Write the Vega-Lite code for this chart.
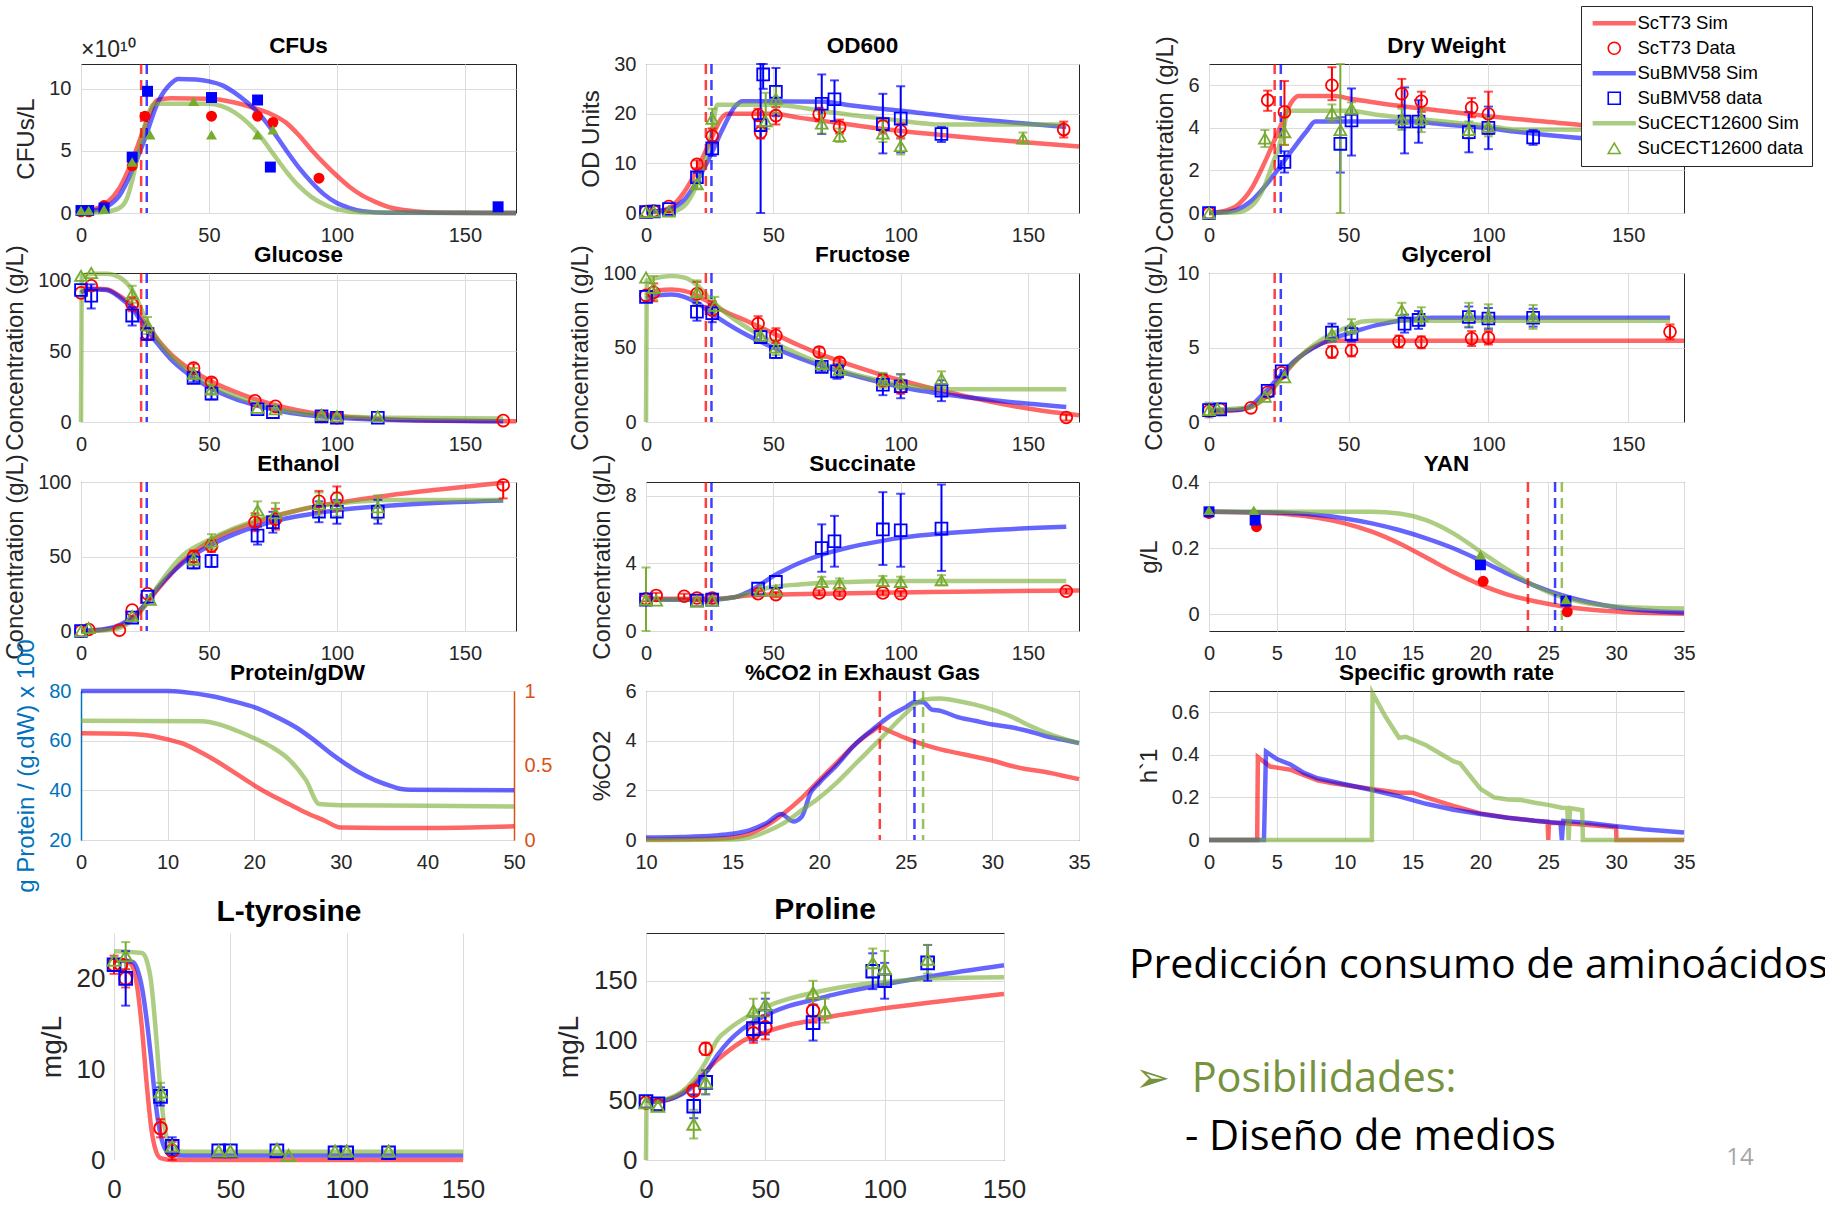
{
"$schema": "https://vega.github.io/schema/vega-lite/v6.json",
"background": "white",
"autosize": "none",
"padding": {"left": 81, "top": 64, "right": 1744, "bottom": 1142},
"columns": 3,
"align": "each",
"bounds": "flush",
"spacing": {"row": 29.5, "column": 130},
"resolve": {"scale": {"color": "independent", "shape": "independent"}, "legend": {"color": "independent", "shape": "independent"}},
"datasets": {
"vl": [{"t":23.5,"s":"ScT73"},{"t":25.7,"s":"SuBMV58"}],
"vl3": [{"t":23.5,"s":"ScT73"},{"t":25.5,"s":"SuBMV58"},{"t":26,"s":"SuCECT12600"}],
"cfu_sim": [
{"t":0,"v":0.2,"s":"ScT73"},{"t":5,"v":0.3,"s":"ScT73"},{"t":10,"v":0.8,"s":"ScT73"},{"t":15,"v":2.0,"s":"ScT73"},{"t":20,"v":4.2,"s":"ScT73"},{"t":25,"v":7.0,"s":"ScT73"},{"t":30,"v":9.1,"s":"ScT73"},{"t":35,"v":9.25,"s":"ScT73"},{"t":50,"v":9.2,"s":"ScT73"},{"t":60,"v":8.9,"s":"ScT73"},{"t":70,"v":8.3,"s":"ScT73"},{"t":75,"v":7.9,"s":"ScT73"},{"t":80,"v":7.3,"s":"ScT73"},{"t":85,"v":6.3,"s":"ScT73"},{"t":90,"v":5.1,"s":"ScT73"},{"t":95,"v":4.0,"s":"ScT73"},{"t":100,"v":3.0,"s":"ScT73"},{"t":105,"v":2.1,"s":"ScT73"},{"t":110,"v":1.4,"s":"ScT73"},{"t":115,"v":0.9,"s":"ScT73"},{"t":120,"v":0.5,"s":"ScT73"},{"t":130,"v":0.15,"s":"ScT73"},{"t":140,"v":0.03,"s":"ScT73"},{"t":170,"v":0,"s":"ScT73"},
{"t":0,"v":0.2,"s":"SuBMV58"},{"t":5,"v":0.2,"s":"SuBMV58"},{"t":10,"v":0.5,"s":"SuBMV58"},{"t":15,"v":1.4,"s":"SuBMV58"},{"t":20,"v":3.4,"s":"SuBMV58"},{"t":25,"v":6.0,"s":"SuBMV58"},{"t":30,"v":8.9,"s":"SuBMV58"},{"t":35,"v":10.4,"s":"SuBMV58"},{"t":38,"v":10.8,"s":"SuBMV58"},{"t":45,"v":10.75,"s":"SuBMV58"},{"t":50,"v":10.6,"s":"SuBMV58"},{"t":55,"v":10.3,"s":"SuBMV58"},{"t":60,"v":9.7,"s":"SuBMV58"},{"t":65,"v":8.9,"s":"SuBMV58"},{"t":70,"v":7.9,"s":"SuBMV58"},{"t":75,"v":6.6,"s":"SuBMV58"},{"t":80,"v":5.1,"s":"SuBMV58"},{"t":85,"v":3.7,"s":"SuBMV58"},{"t":90,"v":2.5,"s":"SuBMV58"},{"t":95,"v":1.5,"s":"SuBMV58"},{"t":100,"v":0.8,"s":"SuBMV58"},{"t":105,"v":0.4,"s":"SuBMV58"},{"t":110,"v":0.15,"s":"SuBMV58"},{"t":120,"v":0.02,"s":"SuBMV58"},{"t":170,"v":0,"s":"SuBMV58"},
{"t":0,"v":0,"s":"SuCECT12600"},{"t":10,"v":0.1,"s":"SuCECT12600"},{"t":15,"v":0.4,"s":"SuCECT12600"},{"t":18,"v":1.2,"s":"SuCECT12600"},{"t":20,"v":2.6,"s":"SuCECT12600"},{"t":23,"v":5.4,"s":"SuCECT12600"},{"t":26,"v":7.8,"s":"SuCECT12600"},{"t":28,"v":8.7,"s":"SuCECT12600"},{"t":30,"v":8.8,"s":"SuCECT12600"},{"t":50,"v":8.8,"s":"SuCECT12600"},{"t":55,"v":8.6,"s":"SuCECT12600"},{"t":60,"v":8.1,"s":"SuCECT12600"},{"t":65,"v":7.3,"s":"SuCECT12600"},{"t":70,"v":6.2,"s":"SuCECT12600"},{"t":75,"v":4.8,"s":"SuCECT12600"},{"t":80,"v":3.4,"s":"SuCECT12600"},{"t":85,"v":2.2,"s":"SuCECT12600"},{"t":90,"v":1.3,"s":"SuCECT12600"},{"t":95,"v":0.7,"s":"SuCECT12600"},{"t":100,"v":0.3,"s":"SuCECT12600"},{"t":110,"v":0.05,"s":"SuCECT12600"},{"t":170,"v":0,"s":"SuCECT12600"}],
"cfu_dat": [
{"t":0,"v":0.1,"s":"ScT73"},{"t":3,"v":0.1,"s":"ScT73"},{"t":9,"v":0.6,"s":"ScT73"},{"t":20,"v":3.8,"s":"ScT73"},{"t":25,"v":7.8,"s":"ScT73"},{"t":51,"v":7.8,"s":"ScT73"},{"t":69,"v":7.8,"s":"ScT73"},{"t":75,"v":7.3,"s":"ScT73"},{"t":93,"v":2.8,"s":"ScT73"},
{"t":0,"v":0.2,"s":"SuBMV58"},{"t":3,"v":0.2,"s":"SuBMV58"},{"t":9,"v":0.4,"s":"SuBMV58"},{"t":20,"v":4.5,"s":"SuBMV58"},{"t":26,"v":9.8,"s":"SuBMV58"},{"t":51,"v":9.3,"s":"SuBMV58"},{"t":69,"v":9.1,"s":"SuBMV58"},{"t":74,"v":3.7,"s":"SuBMV58"},{"t":163,"v":0.5,"s":"SuBMV58"},
{"t":0,"v":0.2,"s":"SuCECT12600"},{"t":3,"v":0.2,"s":"SuCECT12600"},{"t":9,"v":0.3,"s":"SuCECT12600"},{"t":20,"v":4.1,"s":"SuCECT12600"},{"t":27,"v":6.3,"s":"SuCECT12600"},{"t":44,"v":9.0,"s":"SuCECT12600"},{"t":51,"v":6.3,"s":"SuCECT12600"},{"t":69,"v":6.3,"s":"SuCECT12600"},{"t":75,"v":6.7,"s":"SuCECT12600"}],
"od_sim": [
{"t":0,"v":0.2,"s":"ScT73"},{"t":5,"v":0.4,"s":"ScT73"},{"t":10,"v":1.3,"s":"ScT73"},{"t":15,"v":4.2,"s":"ScT73"},{"t":20,"v":8.7,"s":"ScT73"},{"t":25,"v":14.2,"s":"ScT73"},{"t":30,"v":19.3,"s":"ScT73"},{"t":32,"v":20,"s":"ScT73"},{"t":50,"v":20,"s":"ScT73"},{"t":60,"v":19.2,"s":"ScT73"},{"t":70,"v":18.5,"s":"ScT73"},{"t":80,"v":17.8,"s":"ScT73"},{"t":90,"v":17.1,"s":"ScT73"},{"t":100,"v":16.5,"s":"ScT73"},{"t":110,"v":16,"s":"ScT73"},{"t":120,"v":15.5,"s":"ScT73"},{"t":135,"v":14.8,"s":"ScT73"},{"t":150,"v":14.2,"s":"ScT73"},{"t":170,"v":13.4,"s":"ScT73"},
{"t":0,"v":0.3,"s":"SuBMV58"},{"t":5,"v":0.4,"s":"SuBMV58"},{"t":10,"v":0.9,"s":"SuBMV58"},{"t":15,"v":2.6,"s":"SuBMV58"},{"t":20,"v":6.4,"s":"SuBMV58"},{"t":25,"v":11.2,"s":"SuBMV58"},{"t":30,"v":16.8,"s":"SuBMV58"},{"t":35,"v":21.5,"s":"SuBMV58"},{"t":38,"v":22.5,"s":"SuBMV58"},{"t":70,"v":22.4,"s":"SuBMV58"},{"t":80,"v":21.7,"s":"SuBMV58"},{"t":90,"v":21.1,"s":"SuBMV58"},{"t":100,"v":20.6,"s":"SuBMV58"},{"t":110,"v":20,"s":"SuBMV58"},{"t":120,"v":19.4,"s":"SuBMV58"},{"t":140,"v":18.4,"s":"SuBMV58"},{"t":165,"v":17.3,"s":"SuBMV58"},
{"t":0,"v":0.1,"s":"SuCECT12600"},{"t":10,"v":0.3,"s":"SuCECT12600"},{"t":15,"v":1.4,"s":"SuCECT12600"},{"t":20,"v":5.8,"s":"SuCECT12600"},{"t":24,"v":12,"s":"SuCECT12600"},{"t":26,"v":17,"s":"SuCECT12600"},{"t":28,"v":21.8,"s":"SuCECT12600"},{"t":50,"v":21.8,"s":"SuCECT12600"},{"t":60,"v":21.3,"s":"SuCECT12600"},{"t":70,"v":20.5,"s":"SuCECT12600"},{"t":80,"v":19.8,"s":"SuCECT12600"},{"t":90,"v":19.2,"s":"SuCECT12600"},{"t":100,"v":18.6,"s":"SuCECT12600"},{"t":110,"v":18,"s":"SuCECT12600"},{"t":115,"v":17.8,"s":"SuCECT12600"},{"t":165,"v":17.8,"s":"SuCECT12600"}],
"od_dat": [
{"t":0,"v":0.3,"s":"ScT73"},{"t":3,"v":0.4,"s":"ScT73"},{"t":9,"v":1.3,"s":"ScT73"},{"t":20,"v":9.8,"lo":9.0,"hi":10.6,"s":"ScT73"},{"t":26,"v":15.5,"lo":14,"hi":17,"s":"ScT73"},{"t":44,"v":19.7,"lo":18.5,"hi":21,"s":"ScT73"},{"t":45,"v":16.2,"lo":15,"hi":17.5,"s":"ScT73"},{"t":51,"v":19.6,"lo":17.8,"hi":21.3,"s":"ScT73"},{"t":68,"v":19.9,"lo":18.5,"hi":21.2,"s":"ScT73"},{"t":76,"v":17.3,"lo":16,"hi":18.8,"s":"ScT73"},{"t":93,"v":17.5,"lo":16,"hi":19,"s":"ScT73"},{"t":100,"v":16.5,"lo":15,"hi":18,"s":"ScT73"},{"t":164,"v":16.8,"lo":15.2,"hi":18.4,"s":"ScT73"},
{"t":0,"v":0.2,"s":"SuBMV58"},{"t":3,"v":0.3,"s":"SuBMV58"},{"t":9,"v":0.8,"s":"SuBMV58"},{"t":20,"v":7.2,"lo":6.3,"hi":8.1,"s":"SuBMV58"},{"t":26,"v":13,"lo":11.5,"hi":14.5,"s":"SuBMV58"},{"t":45,"v":17.7,"lo":0,"hi":30,"s":"SuBMV58"},{"t":46,"v":27.9,"lo":25,"hi":30,"s":"SuBMV58"},{"t":51,"v":24.4,"lo":19.5,"hi":29.2,"s":"SuBMV58"},{"t":69,"v":22,"lo":15.9,"hi":27.9,"s":"SuBMV58"},{"t":74,"v":22.9,"lo":18.5,"hi":26.7,"s":"SuBMV58"},{"t":93,"v":17.9,"lo":12,"hi":24,"s":"SuBMV58"},{"t":100,"v":19,"lo":12.2,"hi":25.5,"s":"SuBMV58"},{"t":116,"v":15.9,"lo":14.3,"hi":17.3,"s":"SuBMV58"},
{"t":0,"v":0.2,"s":"SuCECT12600"},{"t":3,"v":0.3,"s":"SuCECT12600"},{"t":9,"v":0.3,"s":"SuCECT12600"},{"t":20,"v":5.8,"lo":5,"hi":6.6,"s":"SuCECT12600"},{"t":26,"v":19,"lo":17,"hi":21,"s":"SuCECT12600"},{"t":47,"v":18.5,"lo":16.9,"hi":24.2,"s":"SuCECT12600"},{"t":51,"v":23,"lo":20,"hi":25.5,"s":"SuCECT12600"},{"t":69,"v":18,"lo":16,"hi":20,"s":"SuCECT12600"},{"t":76,"v":15.5,"lo":14.3,"hi":17,"s":"SuCECT12600"},{"t":93,"v":16,"lo":14.3,"hi":18.5,"s":"SuCECT12600"},{"t":100,"v":13.5,"lo":11.8,"hi":15.2,"s":"SuCECT12600"},{"t":148,"v":15,"lo":14,"hi":16.2,"s":"SuCECT12600"}],
"dw_sim": [
{"t":0,"v":0,"s":"ScT73"},{"t":5,"v":0.08,"s":"ScT73"},{"t":10,"v":0.35,"s":"ScT73"},{"t":15,"v":1.1,"s":"ScT73"},{"t":20,"v":2.4,"s":"ScT73"},{"t":25,"v":3.9,"s":"ScT73"},{"t":30,"v":5.3,"s":"ScT73"},{"t":32,"v":5.5,"s":"ScT73"},{"t":45,"v":5.5,"s":"ScT73"},{"t":50,"v":5.38,"s":"ScT73"},{"t":60,"v":5.18,"s":"ScT73"},{"t":70,"v":5.0,"s":"ScT73"},{"t":80,"v":4.85,"s":"ScT73"},{"t":90,"v":4.7,"s":"ScT73"},{"t":100,"v":4.55,"s":"ScT73"},{"t":110,"v":4.42,"s":"ScT73"},{"t":120,"v":4.3,"s":"ScT73"},{"t":140,"v":4.05,"s":"ScT73"},{"t":165,"v":3.85,"s":"ScT73"},
{"t":0,"v":0,"s":"SuBMV58"},{"t":5,"v":0.03,"s":"SuBMV58"},{"t":10,"v":0.15,"s":"SuBMV58"},{"t":15,"v":0.55,"s":"SuBMV58"},{"t":20,"v":1.25,"s":"SuBMV58"},{"t":25,"v":2.1,"s":"SuBMV58"},{"t":30,"v":3.0,"s":"SuBMV58"},{"t":35,"v":3.85,"s":"SuBMV58"},{"t":38,"v":4.3,"s":"SuBMV58"},{"t":75,"v":4.3,"s":"SuBMV58"},{"t":80,"v":4.22,"s":"SuBMV58"},{"t":90,"v":4.1,"s":"SuBMV58"},{"t":100,"v":3.98,"s":"SuBMV58"},{"t":110,"v":3.82,"s":"SuBMV58"},{"t":120,"v":3.68,"s":"SuBMV58"},{"t":140,"v":3.45,"s":"SuBMV58"},{"t":165,"v":3.25,"s":"SuBMV58"},
{"t":0,"v":0,"s":"SuCECT12600"},{"t":10,"v":0.03,"s":"SuCECT12600"},{"t":15,"v":0.3,"s":"SuCECT12600"},{"t":20,"v":1.3,"s":"SuCECT12600"},{"t":23,"v":2.4,"s":"SuCECT12600"},{"t":25,"v":3.1,"s":"SuCECT12600"},{"t":27,"v":4.1,"s":"SuCECT12600"},{"t":28,"v":4.8,"s":"SuCECT12600"},{"t":50,"v":4.8,"s":"SuCECT12600"},{"t":60,"v":4.62,"s":"SuCECT12600"},{"t":70,"v":4.48,"s":"SuCECT12600"},{"t":80,"v":4.35,"s":"SuCECT12600"},{"t":90,"v":4.22,"s":"SuCECT12600"},{"t":100,"v":4.1,"s":"SuCECT12600"},{"t":110,"v":3.92,"s":"SuCECT12600"},{"t":165,"v":3.9,"s":"SuCECT12600"}],
"dw_dat": [
{"t":0,"v":0,"s":"ScT73"},{"t":21,"v":5.3,"lo":4.8,"hi":5.75,"s":"ScT73"},{"t":27,"v":4.75,"lo":3.2,"hi":6.2,"s":"ScT73"},{"t":44,"v":6.0,"lo":5.3,"hi":6.85,"s":"ScT73"},{"t":69,"v":5.6,"lo":5.0,"hi":6.3,"s":"ScT73"},{"t":76,"v":5.25,"lo":4.75,"hi":5.7,"s":"ScT73"},{"t":94,"v":4.95,"lo":4.5,"hi":5.4,"s":"ScT73"},{"t":100,"v":4.65,"lo":3.7,"hi":5.7,"s":"ScT73"},
{"t":0,"v":0,"s":"SuBMV58"},{"t":27,"v":2.4,"lo":1.9,"hi":2.9,"s":"SuBMV58"},{"t":47,"v":3.25,"lo":1.9,"hi":4.5,"s":"SuBMV58"},{"t":51,"v":4.35,"lo":2.7,"hi":5.85,"s":"SuBMV58"},{"t":70,"v":4.3,"lo":2.8,"hi":5.9,"s":"SuBMV58"},{"t":75,"v":4.3,"lo":3.3,"hi":5.3,"s":"SuBMV58"},{"t":93,"v":3.8,"lo":2.85,"hi":4.75,"s":"SuBMV58"},{"t":100,"v":4.0,"lo":3.0,"hi":5.0,"s":"SuBMV58"},{"t":116,"v":3.55,"lo":3.2,"hi":3.9,"s":"SuBMV58"},
{"t":0,"v":0,"s":"SuCECT12600"},{"t":20,"v":3.5,"lo":3.1,"hi":3.9,"s":"SuCECT12600"},{"t":27,"v":3.8,"lo":3.2,"hi":4.5,"s":"SuCECT12600"},{"t":44,"v":4.7,"lo":4.3,"hi":5.1,"s":"SuCECT12600"},{"t":47,"v":3.9,"lo":0,"hi":7,"s":"SuCECT12600"},{"t":51,"v":4.9,"lo":4.6,"hi":5.2,"s":"SuCECT12600"},{"t":69,"v":4.4,"lo":3.9,"hi":4.9,"s":"SuCECT12600"},{"t":76,"v":4.4,"lo":3.8,"hi":4.9,"s":"SuCECT12600"},{"t":93,"v":3.9,"lo":3.5,"hi":4.3,"s":"SuCECT12600"},{"t":100,"v":4.05,"lo":3.6,"hi":4.5,"s":"SuCECT12600"}],
"glu_sim": [
{"t":0,"v":91,"s":"ScT73"},{"t":3,"v":94,"s":"ScT73"},{"t":10,"v":93.5,"s":"ScT73"},{"t":15,"v":89,"s":"ScT73"},{"t":20,"v":82,"s":"ScT73"},{"t":25,"v":70,"s":"ScT73"},{"t":30,"v":58,"s":"ScT73"},{"t":35,"v":48,"s":"ScT73"},{"t":40,"v":40.5,"s":"ScT73"},{"t":45,"v":34.5,"s":"ScT73"},{"t":50,"v":29.5,"s":"ScT73"},{"t":60,"v":21.5,"s":"ScT73"},{"t":70,"v":15,"s":"ScT73"},{"t":80,"v":10,"s":"ScT73"},{"t":90,"v":6.5,"s":"ScT73"},{"t":100,"v":4.3,"s":"ScT73"},{"t":120,"v":2,"s":"ScT73"},{"t":140,"v":1,"s":"ScT73"},{"t":170,"v":0.5,"s":"ScT73"},
{"t":0,"v":91,"s":"SuBMV58"},{"t":3,"v":93.5,"s":"SuBMV58"},{"t":10,"v":93,"s":"SuBMV58"},{"t":15,"v":88,"s":"SuBMV58"},{"t":20,"v":80,"s":"SuBMV58"},{"t":25,"v":67,"s":"SuBMV58"},{"t":30,"v":55,"s":"SuBMV58"},{"t":35,"v":44.5,"s":"SuBMV58"},{"t":40,"v":36.5,"s":"SuBMV58"},{"t":45,"v":30,"s":"SuBMV58"},{"t":50,"v":24.5,"s":"SuBMV58"},{"t":60,"v":16.5,"s":"SuBMV58"},{"t":70,"v":11,"s":"SuBMV58"},{"t":80,"v":7,"s":"SuBMV58"},{"t":90,"v":4.5,"s":"SuBMV58"},{"t":100,"v":3,"s":"SuBMV58"},{"t":120,"v":1.5,"s":"SuBMV58"},{"t":140,"v":0.8,"s":"SuBMV58"},{"t":165,"v":0.5,"s":"SuBMV58"},
{"t":0,"v":0,"s":"SuCECT12600"},{"t":0.3,"v":103,"s":"SuCECT12600"},{"t":5,"v":104.5,"s":"SuCECT12600"},{"t":10,"v":104.5,"s":"SuCECT12600"},{"t":15,"v":102,"s":"SuCECT12600"},{"t":20,"v":93,"s":"SuCECT12600"},{"t":25,"v":74,"s":"SuCECT12600"},{"t":30,"v":58,"s":"SuCECT12600"},{"t":35,"v":47,"s":"SuCECT12600"},{"t":40,"v":39,"s":"SuCECT12600"},{"t":45,"v":32,"s":"SuCECT12600"},{"t":50,"v":26.5,"s":"SuCECT12600"},{"t":60,"v":18.5,"s":"SuCECT12600"},{"t":70,"v":12.5,"s":"SuCECT12600"},{"t":80,"v":8,"s":"SuCECT12600"},{"t":90,"v":5.5,"s":"SuCECT12600"},{"t":100,"v":4,"s":"SuCECT12600"},{"t":120,"v":3,"s":"SuCECT12600"},{"t":165,"v":2.5,"s":"SuCECT12600"}],
"glu_dat": [
{"t":0,"v":91,"s":"ScT73"},{"t":4,"v":96,"s":"ScT73"},{"t":20,"v":83,"lo":78,"hi":88,"s":"ScT73"},{"t":26,"v":62,"lo":58,"hi":66,"s":"ScT73"},{"t":44,"v":38,"lo":35,"hi":41,"s":"ScT73"},{"t":51,"v":28,"lo":25,"hi":31,"s":"ScT73"},{"t":68,"v":15,"s":"ScT73"},{"t":76,"v":11,"s":"ScT73"},{"t":94,"v":4,"s":"ScT73"},{"t":100,"v":3,"s":"ScT73"},{"t":165,"v":1,"s":"ScT73"},
{"t":0,"v":93,"s":"SuBMV58"},{"t":4,"v":89,"lo":80,"hi":97,"s":"SuBMV58"},{"t":20,"v":75,"lo":68,"hi":81,"s":"SuBMV58"},{"t":26,"v":62,"lo":58,"hi":66,"s":"SuBMV58"},{"t":44,"v":31,"lo":28,"hi":34,"s":"SuBMV58"},{"t":51,"v":20,"lo":16,"hi":24,"s":"SuBMV58"},{"t":69,"v":9,"s":"SuBMV58"},{"t":75,"v":7,"s":"SuBMV58"},{"t":94,"v":4,"s":"SuBMV58"},{"t":100,"v":3,"s":"SuBMV58"},{"t":116,"v":3,"s":"SuBMV58"},
{"t":0,"v":103,"s":"SuCECT12600"},{"t":4,"v":105,"s":"SuCECT12600"},{"t":20,"v":90,"lo":84,"hi":96,"s":"SuCECT12600"},{"t":26,"v":68,"lo":62,"hi":74,"s":"SuCECT12600"},{"t":44,"v":34,"lo":30,"hi":38,"s":"SuCECT12600"},{"t":51,"v":23,"lo":20,"hi":26,"s":"SuCECT12600"},{"t":69,"v":10,"s":"SuCECT12600"},{"t":76,"v":9,"s":"SuCECT12600"},{"t":94,"v":5,"s":"SuCECT12600"},{"t":100,"v":4,"s":"SuCECT12600"},{"t":116,"v":4,"s":"SuCECT12600"}],
"fru_sim": [
{"t":0,"v":85,"s":"ScT73"},{"t":5,"v":88.5,"s":"ScT73"},{"t":10,"v":89,"s":"ScT73"},{"t":15,"v":88,"s":"ScT73"},{"t":20,"v":85,"s":"ScT73"},{"t":25,"v":80,"s":"ScT73"},{"t":30,"v":75,"s":"ScT73"},{"t":40,"v":67.5,"s":"ScT73"},{"t":50,"v":59.5,"s":"ScT73"},{"t":60,"v":51.5,"s":"ScT73"},{"t":70,"v":44.5,"s":"ScT73"},{"t":80,"v":38.5,"s":"ScT73"},{"t":90,"v":33,"s":"ScT73"},{"t":100,"v":28,"s":"ScT73"},{"t":110,"v":23.5,"s":"ScT73"},{"t":120,"v":19.5,"s":"ScT73"},{"t":130,"v":15.5,"s":"ScT73"},{"t":140,"v":12,"s":"ScT73"},{"t":150,"v":9,"s":"ScT73"},{"t":160,"v":6.5,"s":"ScT73"},{"t":170,"v":4.5,"s":"ScT73"},
{"t":0,"v":83,"s":"SuBMV58"},{"t":5,"v":85,"s":"SuBMV58"},{"t":10,"v":85.5,"s":"SuBMV58"},{"t":15,"v":84,"s":"SuBMV58"},{"t":20,"v":80,"s":"SuBMV58"},{"t":25,"v":74,"s":"SuBMV58"},{"t":30,"v":68,"s":"SuBMV58"},{"t":40,"v":58,"s":"SuBMV58"},{"t":50,"v":50,"s":"SuBMV58"},{"t":60,"v":43,"s":"SuBMV58"},{"t":70,"v":37,"s":"SuBMV58"},{"t":80,"v":32,"s":"SuBMV58"},{"t":90,"v":27.5,"s":"SuBMV58"},{"t":100,"v":23.5,"s":"SuBMV58"},{"t":120,"v":18,"s":"SuBMV58"},{"t":140,"v":14,"s":"SuBMV58"},{"t":165,"v":10,"s":"SuBMV58"},
{"t":0,"v":0,"s":"SuCECT12600"},{"t":0.3,"v":95,"s":"SuCECT12600"},{"t":5,"v":97,"s":"SuCECT12600"},{"t":10,"v":98,"s":"SuCECT12600"},{"t":15,"v":97,"s":"SuCECT12600"},{"t":20,"v":92,"s":"SuCECT12600"},{"t":25,"v":83,"s":"SuCECT12600"},{"t":30,"v":75,"s":"SuCECT12600"},{"t":40,"v":63,"s":"SuCECT12600"},{"t":50,"v":53.5,"s":"SuCECT12600"},{"t":60,"v":45.5,"s":"SuCECT12600"},{"t":70,"v":38.5,"s":"SuCECT12600"},{"t":80,"v":33,"s":"SuCECT12600"},{"t":90,"v":28.5,"s":"SuCECT12600"},{"t":100,"v":25,"s":"SuCECT12600"},{"t":110,"v":23,"s":"SuCECT12600"},{"t":120,"v":22,"s":"SuCECT12600"},{"t":165,"v":22,"s":"SuCECT12600"}],
"fru_dat": [
{"t":0,"v":85,"s":"ScT73"},{"t":3,"v":87,"lo":81,"hi":93,"s":"ScT73"},{"t":20,"v":86,"lo":78,"hi":94,"s":"ScT73"},{"t":26,"v":75,"lo":69,"hi":81,"s":"ScT73"},{"t":44,"v":66,"lo":61,"hi":71,"s":"ScT73"},{"t":51,"v":58,"lo":53,"hi":63,"s":"ScT73"},{"t":68,"v":47,"lo":44,"hi":50,"s":"ScT73"},{"t":76,"v":40,"lo":37,"hi":43,"s":"ScT73"},{"t":93,"v":28,"lo":24,"hi":32,"s":"ScT73"},{"t":100,"v":23,"lo":19,"hi":27,"s":"ScT73"},{"t":165,"v":3,"lo":1,"hi":5,"s":"ScT73"},
{"t":0,"v":84,"s":"SuBMV58"},{"t":20,"v":74,"lo":68,"hi":80,"s":"SuBMV58"},{"t":26,"v":73,"lo":67,"hi":79,"s":"SuBMV58"},{"t":45,"v":57,"lo":53,"hi":61,"s":"SuBMV58"},{"t":51,"v":47,"lo":43,"hi":51,"s":"SuBMV58"},{"t":69,"v":37,"lo":34,"hi":40,"s":"SuBMV58"},{"t":75,"v":34,"lo":29,"hi":39,"s":"SuBMV58"},{"t":93,"v":25,"lo":18,"hi":32,"s":"SuBMV58"},{"t":100,"v":24,"lo":16,"hi":32,"s":"SuBMV58"},{"t":116,"v":21,"lo":14,"hi":28,"s":"SuBMV58"},
{"t":0,"v":97,"s":"SuCECT12600"},{"t":3,"v":90,"lo":82,"hi":98,"s":"SuCECT12600"},{"t":20,"v":87,"lo":79,"hi":95,"s":"SuCECT12600"},{"t":27,"v":78,"lo":72,"hi":84,"s":"SuCECT12600"},{"t":45,"v":58,"lo":53,"hi":63,"s":"SuCECT12600"},{"t":51,"v":50,"lo":45,"hi":55,"s":"SuCECT12600"},{"t":69,"v":39,"lo":35,"hi":43,"s":"SuCECT12600"},{"t":76,"v":35,"lo":31,"hi":39,"s":"SuCECT12600"},{"t":93,"v":28,"lo":23,"hi":33,"s":"SuCECT12600"},{"t":100,"v":27,"lo":22,"hi":32,"s":"SuCECT12600"},{"t":116,"v":29,"lo":24,"hi":34,"s":"SuCECT12600"}],
"gly_sim": [
{"t":0,"v":0.7,"s":"ScT73"},{"t":10,"v":0.8,"s":"ScT73"},{"t":15,"v":1.0,"s":"ScT73"},{"t":20,"v":1.65,"s":"ScT73"},{"t":25,"v":2.8,"s":"ScT73"},{"t":30,"v":3.9,"s":"ScT73"},{"t":35,"v":4.75,"s":"ScT73"},{"t":40,"v":5.25,"s":"ScT73"},{"t":45,"v":5.45,"s":"ScT73"},{"t":170,"v":5.45,"s":"ScT73"},
{"t":0,"v":0.8,"s":"SuBMV58"},{"t":10,"v":0.8,"s":"SuBMV58"},{"t":15,"v":1.1,"s":"SuBMV58"},{"t":20,"v":2.0,"s":"SuBMV58"},{"t":25,"v":3.0,"s":"SuBMV58"},{"t":30,"v":4.0,"s":"SuBMV58"},{"t":35,"v":4.7,"s":"SuBMV58"},{"t":40,"v":5.25,"s":"SuBMV58"},{"t":45,"v":5.65,"s":"SuBMV58"},{"t":50,"v":5.95,"s":"SuBMV58"},{"t":60,"v":6.5,"s":"SuBMV58"},{"t":70,"v":6.85,"s":"SuBMV58"},{"t":80,"v":7.0,"s":"SuBMV58"},{"t":165,"v":7.0,"s":"SuBMV58"},
{"t":0,"v":0.8,"s":"SuCECT12600"},{"t":15,"v":1.0,"s":"SuCECT12600"},{"t":20,"v":1.6,"s":"SuCECT12600"},{"t":25,"v":2.7,"s":"SuCECT12600"},{"t":30,"v":3.9,"s":"SuCECT12600"},{"t":35,"v":4.8,"s":"SuCECT12600"},{"t":40,"v":5.5,"s":"SuCECT12600"},{"t":45,"v":6.0,"s":"SuCECT12600"},{"t":50,"v":6.4,"s":"SuCECT12600"},{"t":55,"v":6.75,"s":"SuCECT12600"},{"t":60,"v":6.8,"s":"SuCECT12600"},{"t":165,"v":6.8,"s":"SuCECT12600"}],
"gly_dat": [
{"t":0,"v":0.75,"s":"ScT73"},{"t":4,"v":0.85,"s":"ScT73"},{"t":15,"v":0.95,"s":"ScT73"},{"t":21,"v":2.0,"s":"ScT73"},{"t":26,"v":3.3,"s":"ScT73"},{"t":44,"v":4.7,"lo":4.3,"hi":5.1,"s":"ScT73"},{"t":51,"v":4.8,"lo":4.4,"hi":5.2,"s":"ScT73"},{"t":68,"v":5.4,"lo":5.0,"hi":5.8,"s":"ScT73"},{"t":76,"v":5.35,"lo":4.95,"hi":5.75,"s":"ScT73"},{"t":94,"v":5.6,"lo":5.1,"hi":6.1,"s":"ScT73"},{"t":100,"v":5.65,"lo":5.2,"hi":6.1,"s":"ScT73"},{"t":165,"v":6.05,"lo":5.55,"hi":6.55,"s":"ScT73"},
{"t":0,"v":0.8,"s":"SuBMV58"},{"t":4,"v":0.85,"s":"SuBMV58"},{"t":21,"v":2.1,"s":"SuBMV58"},{"t":26,"v":3.4,"s":"SuBMV58"},{"t":44,"v":6.0,"lo":5.4,"hi":6.6,"s":"SuBMV58"},{"t":51,"v":5.9,"lo":5.4,"hi":6.4,"s":"SuBMV58"},{"t":70,"v":6.6,"lo":6.0,"hi":7.2,"s":"SuBMV58"},{"t":75,"v":6.85,"lo":6.25,"hi":7.45,"s":"SuBMV58"},{"t":93,"v":7.05,"lo":6.35,"hi":7.75,"s":"SuBMV58"},{"t":100,"v":6.95,"lo":6.25,"hi":7.65,"s":"SuBMV58"},{"t":116,"v":7.0,"lo":6.4,"hi":7.6,"s":"SuBMV58"},
{"t":0,"v":0.8,"lo":0.3,"hi":1.3,"s":"SuCECT12600"},{"t":3,"v":0.9,"s":"SuCECT12600"},{"t":20,"v":1.7,"s":"SuCECT12600"},{"t":27,"v":3.0,"s":"SuCECT12600"},{"t":44,"v":5.9,"lo":5.4,"hi":6.4,"s":"SuCECT12600"},{"t":51,"v":6.4,"lo":5.9,"hi":6.9,"s":"SuCECT12600"},{"t":69,"v":7.5,"lo":7.0,"hi":8.0,"s":"SuCECT12600"},{"t":76,"v":7.1,"lo":6.5,"hi":7.7,"s":"SuCECT12600"},{"t":93,"v":7.2,"lo":6.4,"hi":8.0,"s":"SuCECT12600"},{"t":100,"v":7.1,"lo":6.3,"hi":7.9,"s":"SuCECT12600"},{"t":116,"v":7.05,"lo":6.25,"hi":7.85,"s":"SuCECT12600"}],
"eth_sim": [
{"t":0,"v":0,"s":"ScT73"},{"t":5,"v":0.3,"s":"ScT73"},{"t":10,"v":1,"s":"ScT73"},{"t":15,"v":3,"s":"ScT73"},{"t":20,"v":8,"s":"ScT73"},{"t":25,"v":17,"s":"ScT73"},{"t":30,"v":28,"s":"ScT73"},{"t":35,"v":38,"s":"ScT73"},{"t":40,"v":47,"s":"ScT73"},{"t":45,"v":54,"s":"ScT73"},{"t":50,"v":60,"s":"ScT73"},{"t":60,"v":68,"s":"ScT73"},{"t":70,"v":74,"s":"ScT73"},{"t":80,"v":79,"s":"ScT73"},{"t":90,"v":83,"s":"ScT73"},{"t":100,"v":86,"s":"ScT73"},{"t":120,"v":91,"s":"ScT73"},{"t":140,"v":95,"s":"ScT73"},{"t":165,"v":99.5,"s":"ScT73"},
{"t":0,"v":0,"s":"SuBMV58"},{"t":5,"v":0.5,"s":"SuBMV58"},{"t":10,"v":1.5,"s":"SuBMV58"},{"t":15,"v":4,"s":"SuBMV58"},{"t":20,"v":9,"s":"SuBMV58"},{"t":25,"v":18,"s":"SuBMV58"},{"t":30,"v":29,"s":"SuBMV58"},{"t":40,"v":46,"s":"SuBMV58"},{"t":50,"v":57,"s":"SuBMV58"},{"t":60,"v":65,"s":"SuBMV58"},{"t":70,"v":71,"s":"SuBMV58"},{"t":80,"v":75.5,"s":"SuBMV58"},{"t":90,"v":78.5,"s":"SuBMV58"},{"t":100,"v":81,"s":"SuBMV58"},{"t":120,"v":84,"s":"SuBMV58"},{"t":140,"v":86,"s":"SuBMV58"},{"t":165,"v":87.5,"s":"SuBMV58"},
{"t":0,"v":0,"s":"SuCECT12600"},{"t":10,"v":0.5,"s":"SuCECT12600"},{"t":15,"v":2,"s":"SuCECT12600"},{"t":20,"v":7,"s":"SuCECT12600"},{"t":25,"v":17,"s":"SuCECT12600"},{"t":30,"v":30,"s":"SuCECT12600"},{"t":40,"v":51,"s":"SuCECT12600"},{"t":50,"v":61,"s":"SuCECT12600"},{"t":60,"v":69,"s":"SuCECT12600"},{"t":70,"v":75,"s":"SuCECT12600"},{"t":80,"v":79,"s":"SuCECT12600"},{"t":90,"v":83,"s":"SuCECT12600"},{"t":100,"v":85.5,"s":"SuCECT12600"},{"t":110,"v":87,"s":"SuCECT12600"},{"t":120,"v":88,"s":"SuCECT12600"},{"t":165,"v":88,"s":"SuCECT12600"}],
"eth_dat": [
{"t":0,"v":0,"s":"ScT73"},{"t":3,"v":1,"s":"ScT73"},{"t":15,"v":0.5,"s":"ScT73"},{"t":20,"v":14,"s":"ScT73"},{"t":26,"v":25,"s":"ScT73"},{"t":44,"v":50,"lo":46,"hi":54,"s":"ScT73"},{"t":51,"v":57,"lo":53,"hi":61,"s":"ScT73"},{"t":68,"v":73,"lo":67,"hi":79,"s":"ScT73"},{"t":76,"v":75,"lo":68,"hi":82,"s":"ScT73"},{"t":93,"v":87,"lo":80,"hi":94,"s":"ScT73"},{"t":100,"v":89,"lo":81,"hi":97,"s":"ScT73"},{"t":165,"v":98,"lo":89,"hi":100,"s":"ScT73"},
{"t":0,"v":0,"s":"SuBMV58"},{"t":20,"v":9,"s":"SuBMV58"},{"t":26,"v":23,"s":"SuBMV58"},{"t":44,"v":46,"lo":42,"hi":50,"s":"SuBMV58"},{"t":51,"v":47,"lo":43,"hi":51,"s":"SuBMV58"},{"t":69,"v":64,"lo":58,"hi":70,"s":"SuBMV58"},{"t":75,"v":73,"lo":66,"hi":80,"s":"SuBMV58"},{"t":93,"v":80,"lo":73,"hi":87,"s":"SuBMV58"},{"t":100,"v":80,"lo":72,"hi":88,"s":"SuBMV58"},{"t":116,"v":80,"lo":72,"hi":88,"s":"SuBMV58"},
{"t":0,"v":0,"s":"SuCECT12600"},{"t":3,"v":2,"s":"SuCECT12600"},{"t":20,"v":10,"s":"SuCECT12600"},{"t":27,"v":21,"s":"SuCECT12600"},{"t":44,"v":48,"lo":44,"hi":52,"s":"SuCECT12600"},{"t":51,"v":60,"lo":55,"hi":65,"s":"SuCECT12600"},{"t":69,"v":81,"lo":75,"hi":87,"s":"SuCECT12600"},{"t":76,"v":79,"lo":72,"hi":86,"s":"SuCECT12600"},{"t":93,"v":85,"lo":77,"hi":93,"s":"SuCECT12600"},{"t":100,"v":85,"lo":77,"hi":93,"s":"SuCECT12600"},{"t":116,"v":83,"lo":75,"hi":91,"s":"SuCECT12600"}],
"suc_sim": [
{"t":0,"v":1.9,"s":"ScT73"},{"t":25,"v":1.9,"s":"ScT73"},{"t":35,"v":2.0,"s":"ScT73"},{"t":40,"v":2.1,"s":"ScT73"},{"t":50,"v":2.15,"s":"ScT73"},{"t":75,"v":2.22,"s":"ScT73"},{"t":100,"v":2.28,"s":"ScT73"},{"t":130,"v":2.33,"s":"ScT73"},{"t":170,"v":2.4,"s":"ScT73"},
{"t":0,"v":1.85,"s":"SuBMV58"},{"t":25,"v":1.85,"s":"SuBMV58"},{"t":35,"v":2.0,"s":"SuBMV58"},{"t":40,"v":2.3,"s":"SuBMV58"},{"t":45,"v":2.75,"s":"SuBMV58"},{"t":50,"v":3.25,"s":"SuBMV58"},{"t":55,"v":3.65,"s":"SuBMV58"},{"t":60,"v":4.0,"s":"SuBMV58"},{"t":70,"v":4.55,"s":"SuBMV58"},{"t":80,"v":4.95,"s":"SuBMV58"},{"t":90,"v":5.25,"s":"SuBMV58"},{"t":100,"v":5.5,"s":"SuBMV58"},{"t":120,"v":5.8,"s":"SuBMV58"},{"t":140,"v":6.0,"s":"SuBMV58"},{"t":165,"v":6.15,"s":"SuBMV58"},
{"t":0,"v":1.85,"s":"SuCECT12600"},{"t":30,"v":1.9,"s":"SuCECT12600"},{"t":40,"v":2.2,"s":"SuCECT12600"},{"t":45,"v":2.45,"s":"SuCECT12600"},{"t":50,"v":2.6,"s":"SuCECT12600"},{"t":60,"v":2.75,"s":"SuCECT12600"},{"t":70,"v":2.85,"s":"SuCECT12600"},{"t":80,"v":2.9,"s":"SuCECT12600"},{"t":100,"v":2.95,"s":"SuCECT12600"},{"t":165,"v":2.95,"s":"SuCECT12600"}],
"suc_dat": [
{"t":0,"v":1.9,"lo":1.75,"hi":2.05,"s":"ScT73"},{"t":4,"v":2.1,"lo":1.95,"hi":2.25,"s":"ScT73"},{"t":15,"v":2.05,"lo":1.9,"hi":2.2,"s":"ScT73"},{"t":20,"v":1.95,"lo":1.8,"hi":2.1,"s":"ScT73"},{"t":26,"v":1.95,"lo":1.8,"hi":2.1,"s":"ScT73"},{"t":44,"v":2.2,"lo":2.05,"hi":2.35,"s":"ScT73"},{"t":51,"v":2.15,"lo":2.0,"hi":2.3,"s":"ScT73"},{"t":68,"v":2.25,"lo":2.1,"hi":2.4,"s":"ScT73"},{"t":76,"v":2.2,"lo":2.05,"hi":2.35,"s":"ScT73"},{"t":93,"v":2.25,"lo":2.1,"hi":2.4,"s":"ScT73"},{"t":100,"v":2.2,"lo":2.05,"hi":2.35,"s":"ScT73"},{"t":165,"v":2.35,"lo":2.2,"hi":2.5,"s":"ScT73"},
{"t":0,"v":1.85,"s":"SuBMV58"},{"t":20,"v":1.8,"s":"SuBMV58"},{"t":26,"v":1.85,"s":"SuBMV58"},{"t":44,"v":2.5,"s":"SuBMV58"},{"t":51,"v":2.9,"s":"SuBMV58"},{"t":69,"v":4.9,"lo":3.5,"hi":6.3,"s":"SuBMV58"},{"t":74,"v":5.3,"lo":3.8,"hi":6.8,"s":"SuBMV58"},{"t":93,"v":6.0,"lo":3.9,"hi":8.2,"s":"SuBMV58"},{"t":100,"v":5.95,"lo":3.8,"hi":8.1,"s":"SuBMV58"},{"t":116,"v":6.05,"lo":3.55,"hi":8.65,"s":"SuBMV58"},
{"t":0,"v":1.85,"lo":0,"hi":3.75,"s":"SuCECT12600"},{"t":4,"v":1.8,"s":"SuCECT12600"},{"t":20,"v":1.75,"s":"SuCECT12600"},{"t":26,"v":1.8,"s":"SuCECT12600"},{"t":45,"v":2.4,"s":"SuCECT12600"},{"t":51,"v":2.4,"s":"SuCECT12600"},{"t":69,"v":2.9,"lo":2.6,"hi":3.2,"s":"SuCECT12600"},{"t":76,"v":2.8,"lo":2.5,"hi":3.1,"s":"SuCECT12600"},{"t":93,"v":2.95,"lo":2.65,"hi":3.25,"s":"SuCECT12600"},{"t":100,"v":2.9,"lo":2.6,"hi":3.2,"s":"SuCECT12600"},{"t":116,"v":3.0,"lo":2.7,"hi":3.3,"s":"SuCECT12600"}],
"yan_sim": [
{"t":0,"v":0.31,"s":"ScT73"},{"t":4,"v":0.307,"s":"ScT73"},{"t":6,"v":0.302,"s":"ScT73"},{"t":8,"v":0.292,"s":"ScT73"},{"t":10,"v":0.275,"s":"ScT73"},{"t":12,"v":0.25,"s":"ScT73"},{"t":14,"v":0.215,"s":"ScT73"},{"t":16,"v":0.172,"s":"ScT73"},{"t":18,"v":0.128,"s":"ScT73"},{"t":20,"v":0.09,"s":"ScT73"},{"t":22,"v":0.06,"s":"ScT73"},{"t":24,"v":0.04,"s":"ScT73"},{"t":26,"v":0.025,"s":"ScT73"},{"t":28,"v":0.015,"s":"ScT73"},{"t":30,"v":0.009,"s":"ScT73"},{"t":32,"v":0.005,"s":"ScT73"},{"t":35,"v":0.002,"s":"ScT73"},
{"t":0,"v":0.31,"s":"SuBMV58"},{"t":5,"v":0.308,"s":"SuBMV58"},{"t":8,"v":0.3,"s":"SuBMV58"},{"t":10,"v":0.29,"s":"SuBMV58"},{"t":12,"v":0.275,"s":"SuBMV58"},{"t":14,"v":0.255,"s":"SuBMV58"},{"t":16,"v":0.23,"s":"SuBMV58"},{"t":18,"v":0.2,"s":"SuBMV58"},{"t":20,"v":0.163,"s":"SuBMV58"},{"t":22,"v":0.123,"s":"SuBMV58"},{"t":24,"v":0.087,"s":"SuBMV58"},{"t":26,"v":0.058,"s":"SuBMV58"},{"t":28,"v":0.037,"s":"SuBMV58"},{"t":30,"v":0.022,"s":"SuBMV58"},{"t":32,"v":0.013,"s":"SuBMV58"},{"t":35,"v":0.006,"s":"SuBMV58"},
{"t":0,"v":0.31,"s":"SuCECT12600"},{"t":5,"v":0.31,"s":"SuCECT12600"},{"t":10,"v":0.31,"s":"SuCECT12600"},{"t":12,"v":0.31,"s":"SuCECT12600"},{"t":14,"v":0.305,"s":"SuCECT12600"},{"t":16,"v":0.285,"s":"SuCECT12600"},{"t":18,"v":0.245,"s":"SuCECT12600"},{"t":20,"v":0.19,"s":"SuCECT12600"},{"t":22,"v":0.135,"s":"SuCECT12600"},{"t":24,"v":0.087,"s":"SuCECT12600"},{"t":26,"v":0.052,"s":"SuCECT12600"},{"t":28,"v":0.033,"s":"SuCECT12600"},{"t":30,"v":0.024,"s":"SuCECT12600"},{"t":32,"v":0.02,"s":"SuCECT12600"},{"t":35,"v":0.018,"s":"SuCECT12600"}],
"yan_dat": [
{"t":0,"v":0.305,"s":"ScT73"},{"t":3.5,"v":0.265,"s":"ScT73"},{"t":20.2,"v":0.1,"s":"ScT73"},{"t":26.4,"v":0.008,"s":"ScT73"},
{"t":0,"v":0.31,"s":"SuBMV58"},{"t":3.4,"v":0.285,"s":"SuBMV58"},{"t":20,"v":0.15,"s":"SuBMV58"},{"t":26.3,"v":0.04,"s":"SuBMV58"},
{"t":0,"v":0.315,"s":"SuCECT12600"},{"t":3.3,"v":0.315,"s":"SuCECT12600"},{"t":20,"v":0.18,"s":"SuCECT12600"},{"t":26.3,"v":0.045,"s":"SuCECT12600"}],
"prot_sim": [
{"t":0,"v":63,"s":"ScT73"},{"t":5,"v":62.8,"s":"ScT73"},{"t":8,"v":62,"s":"ScT73"},{"t":10,"v":60.5,"s":"ScT73"},{"t":12,"v":58.5,"s":"ScT73"},{"t":14,"v":55,"s":"ScT73"},{"t":16,"v":51,"s":"ScT73"},{"t":18,"v":46.5,"s":"ScT73"},{"t":20,"v":42,"s":"ScT73"},{"t":22,"v":38,"s":"ScT73"},{"t":24,"v":34.5,"s":"ScT73"},{"t":26,"v":31,"s":"ScT73"},{"t":28,"v":28,"s":"ScT73"},{"t":30,"v":25,"s":"ScT73"},{"t":35,"v":24.8,"s":"ScT73"},{"t":40,"v":24.8,"s":"ScT73"},{"t":45,"v":25,"s":"ScT73"},{"t":50,"v":25.5,"s":"ScT73"},
{"t":0,"v":80,"s":"SuBMV58"},{"t":10,"v":80,"s":"SuBMV58"},{"t":12,"v":79.5,"s":"SuBMV58"},{"t":15,"v":78,"s":"SuBMV58"},{"t":18,"v":75.5,"s":"SuBMV58"},{"t":20,"v":73.5,"s":"SuBMV58"},{"t":22,"v":70.5,"s":"SuBMV58"},{"t":25,"v":65,"s":"SuBMV58"},{"t":27,"v":60,"s":"SuBMV58"},{"t":29,"v":54.5,"s":"SuBMV58"},{"t":30,"v":52,"s":"SuBMV58"},{"t":32,"v":47.5,"s":"SuBMV58"},{"t":34,"v":44,"s":"SuBMV58"},{"t":36,"v":41.5,"s":"SuBMV58"},{"t":37,"v":40.5,"s":"SuBMV58"},{"t":38,"v":40.2,"s":"SuBMV58"},{"t":50,"v":40,"s":"SuBMV58"},
{"t":0,"v":68,"s":"SuCECT12600"},{"t":14,"v":67.8,"s":"SuCECT12600"},{"t":16,"v":66.5,"s":"SuCECT12600"},{"t":18,"v":64,"s":"SuCECT12600"},{"t":20,"v":61,"s":"SuCECT12600"},{"t":22,"v":57.5,"s":"SuCECT12600"},{"t":24,"v":52.5,"s":"SuCECT12600"},{"t":26,"v":44,"s":"SuCECT12600"},{"t":27.5,"v":34.5,"s":"SuCECT12600"},{"t":30,"v":34,"s":"SuCECT12600"},{"t":40,"v":33.8,"s":"SuCECT12600"},{"t":50,"v":33.5,"s":"SuCECT12600"}],
"co2_sim": [
{"t":10,"v":0.02,"s":"ScT73"},{"t":12,"v":0.03,"s":"ScT73"},{"t":14,"v":0.05,"s":"ScT73"},{"t":15,"v":0.1,"s":"ScT73"},{"t":16,"v":0.25,"s":"ScT73"},{"t":17,"v":0.6,"s":"ScT73"},{"t":18,"v":1.1,"s":"ScT73"},{"t":19,"v":1.7,"s":"ScT73"},{"t":20,"v":2.4,"s":"ScT73"},{"t":21,"v":3.1,"s":"ScT73"},{"t":22,"v":3.8,"s":"ScT73"},{"t":23,"v":4.35,"s":"ScT73"},{"t":23.5,"v":4.55,"s":"ScT73"},{"t":24,"v":4.4,"s":"ScT73"},{"t":25,"v":4.1,"s":"ScT73"},{"t":26,"v":3.85,"s":"ScT73"},{"t":27,"v":3.65,"s":"ScT73"},{"t":28,"v":3.5,"s":"ScT73"},{"t":29,"v":3.35,"s":"ScT73"},{"t":30,"v":3.2,"s":"ScT73"},{"t":31,"v":3.0,"s":"ScT73"},{"t":32,"v":2.85,"s":"ScT73"},{"t":33,"v":2.75,"s":"ScT73"},{"t":34,"v":2.6,"s":"ScT73"},{"t":35,"v":2.45,"s":"ScT73"},
{"t":10,"v":0.1,"s":"SuBMV58"},{"t":12,"v":0.12,"s":"SuBMV58"},{"t":14,"v":0.18,"s":"SuBMV58"},{"t":15,"v":0.25,"s":"SuBMV58"},{"t":16,"v":0.4,"s":"SuBMV58"},{"t":17,"v":0.7,"s":"SuBMV58"},{"t":17.8,"v":1.05,"s":"SuBMV58"},{"t":18.5,"v":0.75,"s":"SuBMV58"},{"t":19,"v":0.95,"s":"SuBMV58"},{"t":19.5,"v":1.9,"s":"SuBMV58"},{"t":20,"v":2.3,"s":"SuBMV58"},{"t":21,"v":3.0,"s":"SuBMV58"},{"t":22,"v":3.8,"s":"SuBMV58"},{"t":23,"v":4.4,"s":"SuBMV58"},{"t":24,"v":4.95,"s":"SuBMV58"},{"t":25,"v":5.35,"s":"SuBMV58"},{"t":25.5,"v":5.55,"s":"SuBMV58"},{"t":26,"v":5.55,"s":"SuBMV58"},{"t":26.5,"v":5.25,"s":"SuBMV58"},{"t":27,"v":5.2,"s":"SuBMV58"},{"t":28,"v":4.95,"s":"SuBMV58"},{"t":29,"v":4.8,"s":"SuBMV58"},{"t":30,"v":4.65,"s":"SuBMV58"},{"t":31,"v":4.55,"s":"SuBMV58"},{"t":32,"v":4.4,"s":"SuBMV58"},{"t":33,"v":4.2,"s":"SuBMV58"},{"t":34,"v":4.05,"s":"SuBMV58"},{"t":35,"v":3.9,"s":"SuBMV58"},
{"t":10,"v":0,"s":"SuCECT12600"},{"t":15,"v":0.02,"s":"SuCECT12600"},{"t":16,"v":0.1,"s":"SuCECT12600"},{"t":17,"v":0.35,"s":"SuCECT12600"},{"t":18,"v":0.7,"s":"SuCECT12600"},{"t":19,"v":1.2,"s":"SuCECT12600"},{"t":20,"v":1.7,"s":"SuCECT12600"},{"t":21,"v":2.3,"s":"SuCECT12600"},{"t":22,"v":3.0,"s":"SuCECT12600"},{"t":23,"v":3.7,"s":"SuCECT12600"},{"t":24,"v":4.4,"s":"SuCECT12600"},{"t":25,"v":5.1,"s":"SuCECT12600"},{"t":26,"v":5.65,"s":"SuCECT12600"},{"t":27,"v":5.7,"s":"SuCECT12600"},{"t":28,"v":5.6,"s":"SuCECT12600"},{"t":29,"v":5.45,"s":"SuCECT12600"},{"t":30,"v":5.25,"s":"SuCECT12600"},{"t":31,"v":5.0,"s":"SuCECT12600"},{"t":32,"v":4.65,"s":"SuCECT12600"},{"t":33,"v":4.35,"s":"SuCECT12600"},{"t":34,"v":4.1,"s":"SuCECT12600"},{"t":35,"v":3.9,"s":"SuCECT12600"}],
"sgr_sim": [
{"t":0,"v":0,"s":"ScT73"},{"t":3.55,"v":0,"s":"ScT73"},{"t":3.6,"v":0.39,"s":"ScT73"},{"t":4,"v":0.37,"s":"ScT73"},{"t":4.5,"v":0.345,"s":"ScT73"},{"t":5,"v":0.34,"s":"ScT73"},{"t":6,"v":0.33,"s":"ScT73"},{"t":7,"v":0.305,"s":"ScT73"},{"t":8,"v":0.28,"s":"ScT73"},{"t":9,"v":0.268,"s":"ScT73"},{"t":10,"v":0.258,"s":"ScT73"},{"t":12,"v":0.24,"s":"ScT73"},{"t":14,"v":0.222,"s":"ScT73"},{"t":15,"v":0.222,"s":"ScT73"},{"t":16,"v":0.2,"s":"ScT73"},{"t":18,"v":0.16,"s":"ScT73"},{"t":20,"v":0.125,"s":"ScT73"},{"t":22,"v":0.105,"s":"ScT73"},{"t":24,"v":0.09,"s":"ScT73"},{"t":24.95,"v":0.085,"s":"ScT73"},{"t":25,"v":0,"s":"ScT73"},{"t":25.05,"v":0.08,"s":"ScT73"},{"t":26,"v":0.08,"s":"ScT73"},{"t":28,"v":0.07,"s":"ScT73"},{"t":30,"v":0.06,"s":"ScT73"},{"t":30.02,"v":0,"s":"ScT73"},{"t":35,"v":0,"s":"ScT73"},
{"t":0,"v":0,"s":"SuBMV58"},{"t":4.05,"v":0,"s":"SuBMV58"},{"t":4.2,"v":0.415,"s":"SuBMV58"},{"t":5,"v":0.38,"s":"SuBMV58"},{"t":6,"v":0.355,"s":"SuBMV58"},{"t":7,"v":0.315,"s":"SuBMV58"},{"t":8,"v":0.29,"s":"SuBMV58"},{"t":10,"v":0.262,"s":"SuBMV58"},{"t":12,"v":0.235,"s":"SuBMV58"},{"t":14,"v":0.205,"s":"SuBMV58"},{"t":16,"v":0.17,"s":"SuBMV58"},{"t":18,"v":0.142,"s":"SuBMV58"},{"t":20,"v":0.122,"s":"SuBMV58"},{"t":22,"v":0.105,"s":"SuBMV58"},{"t":24,"v":0.09,"s":"SuBMV58"},{"t":25.9,"v":0.08,"s":"SuBMV58"},{"t":26,"v":0,"s":"SuBMV58"},{"t":26.1,"v":0.09,"s":"SuBMV58"},{"t":28,"v":0.08,"s":"SuBMV58"},{"t":30,"v":0.065,"s":"SuBMV58"},{"t":32,"v":0.05,"s":"SuBMV58"},{"t":35,"v":0.035,"s":"SuBMV58"},
{"t":0,"v":0,"s":"SuCECT12600"},{"t":12,"v":0,"s":"SuCECT12600"},{"t":12.05,"v":0.69,"s":"SuCECT12600"},{"t":13,"v":0.58,"s":"SuCECT12600"},{"t":14,"v":0.48,"s":"SuCECT12600"},{"t":14.5,"v":0.485,"s":"SuCECT12600"},{"t":16,"v":0.445,"s":"SuCECT12600"},{"t":18,"v":0.37,"s":"SuCECT12600"},{"t":18.5,"v":0.36,"s":"SuCECT12600"},{"t":19.5,"v":0.28,"s":"SuCECT12600"},{"t":20,"v":0.24,"s":"SuCECT12600"},{"t":21,"v":0.2,"s":"SuCECT12600"},{"t":22,"v":0.19,"s":"SuCECT12600"},{"t":23,"v":0.188,"s":"SuCECT12600"},{"t":24,"v":0.175,"s":"SuCECT12600"},{"t":25,"v":0.165,"s":"SuCECT12600"},{"t":26,"v":0.152,"s":"SuCECT12600"},{"t":26.4,"v":0.15,"s":"SuCECT12600"},{"t":26.5,"v":0,"s":"SuCECT12600"},{"t":26.6,"v":0.15,"s":"SuCECT12600"},{"t":27.5,"v":0.14,"s":"SuCECT12600"},{"t":27.55,"v":0,"s":"SuCECT12600"},{"t":35,"v":0,"s":"SuCECT12600"}],
"tyr_sim": [
{"t":0,"v":22,"s":"ScT73"},{"t":5,"v":22,"s":"ScT73"},{"t":8,"v":21.3,"s":"ScT73"},{"t":10,"v":19,"s":"ScT73"},{"t":12,"v":14.5,"s":"ScT73"},{"t":14,"v":8.5,"s":"ScT73"},{"t":16,"v":3.5,"s":"ScT73"},{"t":18,"v":1,"s":"ScT73"},{"t":20,"v":0.2,"s":"ScT73"},{"t":25,"v":0,"s":"ScT73"},{"t":150,"v":0,"s":"ScT73"},
{"t":0,"v":22,"s":"SuBMV58"},{"t":8,"v":21.8,"s":"SuBMV58"},{"t":10,"v":21,"s":"SuBMV58"},{"t":12,"v":19,"s":"SuBMV58"},{"t":14,"v":15.5,"s":"SuBMV58"},{"t":16,"v":11,"s":"SuBMV58"},{"t":18,"v":6,"s":"SuBMV58"},{"t":20,"v":2.8,"s":"SuBMV58"},{"t":22,"v":1.2,"s":"SuBMV58"},{"t":25,"v":0.6,"s":"SuBMV58"},{"t":30,"v":0.5,"s":"SuBMV58"},{"t":150,"v":0.5,"s":"SuBMV58"},
{"t":0,"v":23,"s":"SuCECT12600"},{"t":12,"v":22.8,"s":"SuCECT12600"},{"t":14,"v":22,"s":"SuCECT12600"},{"t":16,"v":19.5,"s":"SuCECT12600"},{"t":18,"v":14,"s":"SuCECT12600"},{"t":20,"v":7.5,"s":"SuCECT12600"},{"t":22,"v":3.2,"s":"SuCECT12600"},{"t":25,"v":1.2,"s":"SuCECT12600"},{"t":30,"v":0.9,"s":"SuCECT12600"},{"t":150,"v":0.9,"s":"SuCECT12600"}],
"tyr_dat": [
{"t":0,"v":21.5,"lo":20.5,"hi":22.5,"s":"ScT73"},{"t":3,"v":21.5,"s":"ScT73"},{"t":5,"v":20,"lo":19,"hi":21,"s":"ScT73"},{"t":20,"v":3.5,"lo":2.5,"hi":4.5,"s":"ScT73"},{"t":25,"v":1,"lo":0,"hi":2,"s":"ScT73"},
{"t":0,"v":21.5,"s":"SuBMV58"},{"t":5,"v":20,"lo":17,"hi":23,"s":"SuBMV58"},{"t":20,"v":7,"lo":6,"hi":8,"s":"SuBMV58"},{"t":25,"v":1.5,"lo":0.5,"hi":2.5,"s":"SuBMV58"},{"t":45,"v":1,"s":"SuBMV58"},{"t":50,"v":1,"s":"SuBMV58"},{"t":70,"v":1,"s":"SuBMV58"},{"t":95,"v":0.8,"s":"SuBMV58"},{"t":100,"v":0.8,"s":"SuBMV58"},{"t":118,"v":0.8,"s":"SuBMV58"},
{"t":0,"v":22,"s":"SuCECT12600"},{"t":5,"v":22.5,"lo":21,"hi":24,"s":"SuCECT12600"},{"t":20,"v":7.5,"lo":6.5,"hi":8.5,"s":"SuCECT12600"},{"t":25,"v":1.5,"s":"SuCECT12600"},{"t":45,"v":1,"s":"SuCECT12600"},{"t":50,"v":1,"s":"SuCECT12600"},{"t":70,"v":1.2,"s":"SuCECT12600"},{"t":75,"v":0.5,"s":"SuCECT12600"},{"t":95,"v":1,"s":"SuCECT12600"},{"t":100,"v":1,"s":"SuCECT12600"},{"t":118,"v":1,"s":"SuCECT12600"}],
"pro_sim": [
{"t":0,"v":50,"s":"ScT73"},{"t":5,"v":49,"s":"ScT73"},{"t":10,"v":51,"s":"ScT73"},{"t":15,"v":56,"s":"ScT73"},{"t":20,"v":64,"s":"ScT73"},{"t":25,"v":74,"s":"ScT73"},{"t":30,"v":84,"s":"ScT73"},{"t":35,"v":92,"s":"ScT73"},{"t":40,"v":99,"s":"ScT73"},{"t":50,"v":107,"s":"ScT73"},{"t":60,"v":113,"s":"ScT73"},{"t":70,"v":117,"s":"ScT73"},{"t":80,"v":121,"s":"ScT73"},{"t":100,"v":127,"s":"ScT73"},{"t":120,"v":132,"s":"ScT73"},{"t":150,"v":139,"s":"ScT73"},
{"t":0,"v":50,"s":"SuBMV58"},{"t":5,"v":49,"s":"SuBMV58"},{"t":10,"v":51,"s":"SuBMV58"},{"t":15,"v":55,"s":"SuBMV58"},{"t":20,"v":62,"s":"SuBMV58"},{"t":25,"v":73,"s":"SuBMV58"},{"t":30,"v":88,"s":"SuBMV58"},{"t":35,"v":100,"s":"SuBMV58"},{"t":40,"v":109,"s":"SuBMV58"},{"t":50,"v":121,"s":"SuBMV58"},{"t":60,"v":129,"s":"SuBMV58"},{"t":70,"v":134,"s":"SuBMV58"},{"t":80,"v":139,"s":"SuBMV58"},{"t":100,"v":147,"s":"SuBMV58"},{"t":120,"v":154,"s":"SuBMV58"},{"t":150,"v":163,"s":"SuBMV58"},
{"t":0,"v":0,"s":"SuCECT12600"},{"t":0.3,"v":50,"s":"SuCECT12600"},{"t":5,"v":49,"s":"SuCECT12600"},{"t":10,"v":52,"s":"SuCECT12600"},{"t":15,"v":57,"s":"SuCECT12600"},{"t":20,"v":67,"s":"SuCECT12600"},{"t":25,"v":82,"s":"SuCECT12600"},{"t":30,"v":101,"s":"SuCECT12600"},{"t":35,"v":110,"s":"SuCECT12600"},{"t":40,"v":117,"s":"SuCECT12600"},{"t":50,"v":128,"s":"SuCECT12600"},{"t":60,"v":135,"s":"SuCECT12600"},{"t":70,"v":140,"s":"SuCECT12600"},{"t":80,"v":144,"s":"SuCECT12600"},{"t":100,"v":149,"s":"SuCECT12600"},{"t":120,"v":152,"s":"SuCECT12600"},{"t":150,"v":153,"s":"SuCECT12600"}],
"pro_dat": [
{"t":0,"v":48,"s":"ScT73"},{"t":5,"v":46,"s":"ScT73"},{"t":20,"v":58,"lo":54,"hi":62,"s":"ScT73"},{"t":25,"v":93,"lo":88,"hi":98,"s":"ScT73"},{"t":45,"v":106,"lo":98,"hi":114,"s":"ScT73"},{"t":50,"v":111,"lo":101,"hi":121,"s":"ScT73"},{"t":70,"v":125,"lo":115,"hi":135,"s":"ScT73"},
{"t":0,"v":49,"s":"SuBMV58"},{"t":5,"v":47,"s":"SuBMV58"},{"t":20,"v":45,"lo":35,"hi":55,"s":"SuBMV58"},{"t":25,"v":65,"lo":55,"hi":75,"s":"SuBMV58"},{"t":45,"v":110,"lo":100,"hi":120,"s":"SuBMV58"},{"t":50,"v":120,"lo":105,"hi":135,"s":"SuBMV58"},{"t":70,"v":115,"lo":100,"hi":130,"s":"SuBMV58"},{"t":95,"v":158,"lo":143,"hi":173,"s":"SuBMV58"},{"t":100,"v":150,"lo":135,"hi":165,"s":"SuBMV58"},{"t":118,"v":165,"lo":150,"hi":180,"s":"SuBMV58"},
{"t":0,"v":48,"s":"SuCECT12600"},{"t":5,"v":45,"s":"SuCECT12600"},{"t":20,"v":30,"lo":18,"hi":42,"s":"SuCECT12600"},{"t":25,"v":65,"lo":55,"hi":75,"s":"SuCECT12600"},{"t":45,"v":125,"lo":115,"hi":135,"s":"SuCECT12600"},{"t":50,"v":130,"lo":120,"hi":140,"s":"SuCECT12600"},{"t":70,"v":140,"lo":130,"hi":150,"s":"SuCECT12600"},{"t":75,"v":125,"lo":115,"hi":135,"s":"SuCECT12600"},{"t":95,"v":165,"lo":153,"hi":177,"s":"SuCECT12600"},{"t":100,"v":160,"lo":145,"hi":175,"s":"SuCECT12600"},{"t":118,"v":168,"lo":156,"hi":180,"s":"SuCECT12600"}]
},
"concat": [
{"width": 435, "height": 149,
 "layer": [
  {"data": {"name": "cfu_sim"}, "mark": {"type": "line", "interpolate": "monotone", "strokeWidth": 4.5, "opacity": 0.6}, "encoding": {"x": {"field": "t", "type": "quantitative", "scale": {"domain": [0,170], "nice": false}, "axis": {"values": [0,50,100,150], "title": null}}, "y": {"field": "v", "type": "quantitative", "title": "CFUs/L", "scale": {"domain": [0,12], "nice": false}, "axis": {"values": [0,5,10]}}, "color": {"field": "s", "type": "nominal", "scale": {"domain": ["ScT73","SuBMV58","SuCECT12600"], "range": ["#ff0000","#0000ff","#77ac30"]}, "legend": null}}},
  {"data": {"name": "vl"}, "mark": {"type": "rule", "strokeDash": [10,6], "strokeWidth": 2.5, "opacity": 0.75}, "encoding": {"x": {"field": "t", "type": "quantitative"}, "color": {"field": "s", "type": "nominal", "legend": null}}},
  {"data": {"name": "cfu_dat"}, "mark": {"type": "point", "filled": true, "size": 120, "opacity": 1}, "encoding": {"x": {"field": "t", "type": "quantitative"}, "y": {"field": "v", "type": "quantitative", "title": "CFUs/L"}, "color": {"field": "s", "type": "nominal", "legend": null}, "shape": {"field": "s", "type": "nominal", "scale": {"domain": ["ScT73","SuBMV58","SuCECT12600"], "range": ["circle","square","triangle-up"]}, "legend": null}}},
  {"data": {"values": [{"lab": "×10¹⁰"}]}, "mark": {"type": "text", "align": "left", "baseline": "bottom", "fontSize": 23, "dy": -2, "font": "Liberation Sans", "color": "#262626"}, "encoding": {"x": {"value": 0}, "y": {"value": 0}, "text": {"field": "lab"}}},
  {"data": {"values": [{"ttl": "CFUs"}]}, "mark": {"type": "text", "align": "center", "baseline": "bottom", "fontSize": 22.5, "fontWeight": "bold", "dy": -6, "color": "#000000"}, "encoding": {"x": {"datum": 85, "type": "quantitative"}, "y": {"value": 0}, "text": {"field": "ttl"}}}
 ]},
{"width": 433, "height": 149,
 "layer": [
  {"data": {"name": "od_sim"}, "mark": {"type": "line", "interpolate": "monotone", "strokeWidth": 4.5, "opacity": 0.6}, "encoding": {"x": {"field": "t", "type": "quantitative", "scale": {"domain": [0,170], "nice": false}, "axis": {"values": [0,50,100,150], "title": null}}, "y": {"field": "v", "type": "quantitative", "title": "OD Units", "scale": {"domain": [0,30], "nice": false}, "axis": {"values": [0,10,20,30]}}, "color": {"field": "s", "type": "nominal", "scale": {"domain": ["ScT73","SuBMV58","SuCECT12600"], "range": ["#ff0000","#0000ff","#77ac30"]}, "legend": null}}},
  {"data": {"name": "vl"}, "mark": {"type": "rule", "strokeDash": [10,6], "strokeWidth": 2.5, "opacity": 0.75}, "encoding": {"x": {"field": "t", "type": "quantitative"}, "color": {"field": "s", "type": "nominal", "legend": null}}},
  {"data": {"name": "od_dat"}, "transform": [{"filter": "datum.lo != null"}], "mark": {"type": "errorbar", "ticks": true, "size": 9, "thickness": 2}, "encoding": {"x": {"field": "t", "type": "quantitative"}, "y": {"field": "lo", "type": "quantitative", "title": "OD Units"}, "y2": {"field": "hi"}, "color": {"field": "s", "type": "nominal", "legend": null}}},
  {"data": {"name": "od_dat"}, "mark": {"type": "point", "filled": false, "size": 140, "strokeWidth": 1.8, "opacity": 1}, "encoding": {"x": {"field": "t", "type": "quantitative"}, "y": {"field": "v", "type": "quantitative", "title": "OD Units"}, "color": {"field": "s", "type": "nominal", "legend": null}, "shape": {"field": "s", "type": "nominal", "scale": {"domain": ["ScT73","SuBMV58","SuCECT12600"], "range": ["circle","square","triangle-up"]}, "legend": null}}},
  {"data": {"values": [{"ttl": "OD600"}]}, "mark": {"type": "text", "align": "center", "baseline": "bottom", "fontSize": 22.5, "fontWeight": "bold", "dy": -6, "color": "#000000"}, "encoding": {"x": {"datum": 85, "type": "quantitative"}, "y": {"value": 0}, "text": {"field": "ttl"}}}
 ]},
{"width": 475, "height": 149,
 "resolve": {"scale": {"color": "independent", "shape": "independent"}},
 "layer": [
  {"data": {"name": "dw_sim"}, "mark": {"type": "line", "interpolate": "monotone", "strokeWidth": 4.5, "opacity": 0.6}, "encoding": {"x": {"field": "t", "type": "quantitative", "scale": {"domain": [0,170], "nice": false}, "axis": {"values": [0,50,100,150], "title": null}}, "y": {"field": "v", "type": "quantitative", "title": "Concentration (g/L)", "scale": {"domain": [0,7], "nice": false}, "axis": {"values": [0,2,4,6]}}, "color": {"field": "s", "type": "nominal", "scale": {"domain": ["ScT73","SuBMV58","SuCECT12600"], "range": ["#ff0000","#0000ff","#77ac30"]}, "legend": null}}},
  {"data": {"name": "vl"}, "mark": {"type": "rule", "strokeDash": [10,6], "strokeWidth": 2.5, "opacity": 0.75}, "encoding": {"x": {"field": "t", "type": "quantitative"}, "color": {"field": "s", "type": "nominal", "scale": {"domain": ["ScT73","SuBMV58","SuCECT12600"], "range": ["#ff0000","#0000ff","#77ac30"]}, "legend": null}}},
  {"data": {"name": "dw_dat"}, "transform": [{"filter": "datum.lo != null"}], "mark": {"type": "errorbar", "ticks": true, "size": 9, "thickness": 2}, "encoding": {"x": {"field": "t", "type": "quantitative"}, "y": {"field": "lo", "type": "quantitative", "title": "Concentration (g/L)"}, "y2": {"field": "hi"}, "color": {"field": "s", "type": "nominal", "scale": {"domain": ["ScT73","SuBMV58","SuCECT12600"], "range": ["#ff0000","#0000ff","#77ac30"]}, "legend": null}}},
  {"data": {"name": "dw_dat"}, "mark": {"type": "point", "filled": false, "size": 140, "strokeWidth": 1.8, "opacity": 1}, "encoding": {"x": {"field": "t", "type": "quantitative"}, "y": {"field": "v", "type": "quantitative", "title": "Concentration (g/L)"}, "color": {"field": "s", "type": "nominal", "scale": {"domain": ["ScT73","SuBMV58","SuCECT12600"], "range": ["#ff0000","#0000ff","#77ac30"]}, "legend": null}, "shape": {"field": "s", "type": "nominal", "scale": {"domain": ["ScT73","SuBMV58","SuCECT12600"], "range": ["circle","square","triangle-up"]}, "legend": null}}},
  {"data": {"values": [{"ttl": "Dry Weight"}]}, "mark": {"type": "text", "align": "center", "baseline": "bottom", "fontSize": 22.5, "fontWeight": "bold", "dy": -6, "color": "#000000"}, "encoding": {"x": {"datum": 85, "type": "quantitative"}, "y": {"value": 0}, "text": {"field": "ttl"}}},
  {"data": {"values": [{"leg": "ScT73 Sim"},{"leg": "ScT73 Data"},{"leg": "SuBMV58 Sim"},{"leg": "SuBMV58 data"},{"leg": "SuCECT12600 Sim"},{"leg": "SuCECT12600 data"}]},
   "mark": {"type": "point", "filled": false, "opacity": 1},
   "encoding": {
    "x": {"field": "t", "type": "quantitative"},
    "color": {"field": "leg", "type": "nominal", "scale": {"domain": ["ScT73 Sim","ScT73 Data","SuBMV58 Sim","SuBMV58 data","SuCECT12600 Sim","SuCECT12600 data"], "range": ["#ff6666","#ff0000","#6666ff","#0000ff","#a9cd83","#77ac30"]},
      "legend": {"title": null, "orient": "none", "legendX": 372, "legendY": -58, "labelFont": "Liberation Sans", "labelFontSize": 18.5, "labelColor": "#000000", "strokeColor": "#262626", "fillColor": "#ffffff", "padding": 8, "rowPadding": 6, "symbolSize": 144, "symbolStrokeWidth": 1.6, "symbolOffset": 16, "labelOffset": 14, "labelLimit": 300, "symbolOpacity": 1}},
    "shape": {"field": "leg", "type": "nominal", "scale": {"domain": ["ScT73 Sim","ScT73 Data","SuBMV58 Sim","SuBMV58 data","SuCECT12600 Sim","SuCECT12600 data"], "range": ["M-3.6,-0.25H3.6M-3.6,-0.08H3.6M-3.6,0.08H3.6M-3.6,0.25H3.6","circle","M-3.6,-0.25H3.6M-3.6,-0.08H3.6M-3.6,0.08H3.6M-3.6,0.25H3.6","square","M-3.6,-0.25H3.6M-3.6,-0.08H3.6M-3.6,0.08H3.6M-3.6,0.25H3.6","triangle-up"]}, "legend": {"title": null}}
   }}
 ]},
{"width": 1, "height": 1, "data": {"values": [{"a": 1}]}, "mark": {"type": "point", "opacity": 0}, "encoding": {}, "view": {"stroke": null}},
{"width": 1, "height": 1, "data": {"values": [{"a": 1}]}, "mark": {"type": "point", "opacity": 0}, "encoding": {}, "view": {"stroke": null}},
{"width": 1, "height": 1, "data": {"values": [{"a": 1}]}, "mark": {"type": "point", "opacity": 0}, "encoding": {}, "view": {"stroke": null}},
{"width": 435, "height": 149,
 "layer": [
  {"data": {"name": "glu_sim"}, "mark": {"type": "line", "interpolate": "monotone", "strokeWidth": 4.5, "opacity": 0.6}, "encoding": {"x": {"field": "t", "type": "quantitative", "scale": {"domain": [0,170], "nice": false}, "axis": {"values": [0,50,100,150], "title": null}}, "y": {"field": "v", "type": "quantitative", "title": "Concentration (g/L)", "scale": {"domain": [0,105], "nice": false}, "axis": {"values": [0,50,100]}}, "color": {"field": "s", "type": "nominal", "scale": {"domain": ["ScT73","SuBMV58","SuCECT12600"], "range": ["#ff0000","#0000ff","#77ac30"]}, "legend": null}}},
  {"data": {"name": "vl"}, "mark": {"type": "rule", "strokeDash": [10,6], "strokeWidth": 2.5, "opacity": 0.75}, "encoding": {"x": {"field": "t", "type": "quantitative"}, "color": {"field": "s", "type": "nominal", "legend": null}}},
  {"data": {"name": "glu_dat"}, "transform": [{"filter": "datum.lo != null"}], "mark": {"type": "errorbar", "ticks": true, "size": 9, "thickness": 2}, "encoding": {"x": {"field": "t", "type": "quantitative"}, "y": {"field": "lo", "type": "quantitative", "title": "Concentration (g/L)"}, "y2": {"field": "hi"}, "color": {"field": "s", "type": "nominal", "legend": null}}},
  {"data": {"name": "glu_dat"}, "mark": {"type": "point", "filled": false, "size": 140, "strokeWidth": 1.8, "opacity": 1}, "encoding": {"x": {"field": "t", "type": "quantitative"}, "y": {"field": "v", "type": "quantitative", "title": "Concentration (g/L)"}, "color": {"field": "s", "type": "nominal", "legend": null}, "shape": {"field": "s", "type": "nominal", "scale": {"domain": ["ScT73","SuBMV58","SuCECT12600"], "range": ["circle","square","triangle-up"]}, "legend": null}}},
  {"data": {"values": [{"ttl": "Glucose"}]}, "mark": {"type": "text", "align": "center", "baseline": "bottom", "fontSize": 22.5, "fontWeight": "bold", "dy": -6, "color": "#000000"}, "encoding": {"x": {"datum": 85, "type": "quantitative"}, "y": {"value": 0}, "text": {"field": "ttl"}}}
 ]},
{"width": 433, "height": 149,
 "layer": [
  {"data": {"name": "fru_sim"}, "mark": {"type": "line", "interpolate": "monotone", "strokeWidth": 4.5, "opacity": 0.6}, "encoding": {"x": {"field": "t", "type": "quantitative", "scale": {"domain": [0,170], "nice": false}, "axis": {"values": [0,50,100,150], "title": null}}, "y": {"field": "v", "type": "quantitative", "title": "Concentration (g/L)", "scale": {"domain": [0,100], "nice": false}, "axis": {"values": [0,50,100]}}, "color": {"field": "s", "type": "nominal", "scale": {"domain": ["ScT73","SuBMV58","SuCECT12600"], "range": ["#ff0000","#0000ff","#77ac30"]}, "legend": null}}},
  {"data": {"name": "vl"}, "mark": {"type": "rule", "strokeDash": [10,6], "strokeWidth": 2.5, "opacity": 0.75}, "encoding": {"x": {"field": "t", "type": "quantitative"}, "color": {"field": "s", "type": "nominal", "legend": null}}},
  {"data": {"name": "fru_dat"}, "transform": [{"filter": "datum.lo != null"}], "mark": {"type": "errorbar", "ticks": true, "size": 9, "thickness": 2}, "encoding": {"x": {"field": "t", "type": "quantitative"}, "y": {"field": "lo", "type": "quantitative", "title": "Concentration (g/L)"}, "y2": {"field": "hi"}, "color": {"field": "s", "type": "nominal", "legend": null}}},
  {"data": {"name": "fru_dat"}, "mark": {"type": "point", "filled": false, "size": 140, "strokeWidth": 1.8, "opacity": 1}, "encoding": {"x": {"field": "t", "type": "quantitative"}, "y": {"field": "v", "type": "quantitative", "title": "Concentration (g/L)"}, "color": {"field": "s", "type": "nominal", "legend": null}, "shape": {"field": "s", "type": "nominal", "scale": {"domain": ["ScT73","SuBMV58","SuCECT12600"], "range": ["circle","square","triangle-up"]}, "legend": null}}},
  {"data": {"values": [{"ttl": "Fructose"}]}, "mark": {"type": "text", "align": "center", "baseline": "bottom", "fontSize": 22.5, "fontWeight": "bold", "dy": -6, "color": "#000000"}, "encoding": {"x": {"datum": 85, "type": "quantitative"}, "y": {"value": 0}, "text": {"field": "ttl"}}}
 ]},
{"width": 475, "height": 149,
 "layer": [
  {"data": {"name": "gly_sim"}, "mark": {"type": "line", "interpolate": "monotone", "strokeWidth": 4.5, "opacity": 0.6}, "encoding": {"x": {"field": "t", "type": "quantitative", "scale": {"domain": [0,170], "nice": false}, "axis": {"values": [0,50,100,150], "title": null}}, "y": {"field": "v", "type": "quantitative", "title": "Concentration (g/L)", "scale": {"domain": [0,10], "nice": false}, "axis": {"values": [0,5,10]}}, "color": {"field": "s", "type": "nominal", "scale": {"domain": ["ScT73","SuBMV58","SuCECT12600"], "range": ["#ff0000","#0000ff","#77ac30"]}, "legend": null}}},
  {"data": {"name": "vl"}, "mark": {"type": "rule", "strokeDash": [10,6], "strokeWidth": 2.5, "opacity": 0.75}, "encoding": {"x": {"field": "t", "type": "quantitative"}, "color": {"field": "s", "type": "nominal", "legend": null}}},
  {"data": {"name": "gly_dat"}, "transform": [{"filter": "datum.lo != null"}], "mark": {"type": "errorbar", "ticks": true, "size": 9, "thickness": 2}, "encoding": {"x": {"field": "t", "type": "quantitative"}, "y": {"field": "lo", "type": "quantitative", "title": "Concentration (g/L)"}, "y2": {"field": "hi"}, "color": {"field": "s", "type": "nominal", "legend": null}}},
  {"data": {"name": "gly_dat"}, "mark": {"type": "point", "filled": false, "size": 140, "strokeWidth": 1.8, "opacity": 1}, "encoding": {"x": {"field": "t", "type": "quantitative"}, "y": {"field": "v", "type": "quantitative", "title": "Concentration (g/L)"}, "color": {"field": "s", "type": "nominal", "legend": null}, "shape": {"field": "s", "type": "nominal", "scale": {"domain": ["ScT73","SuBMV58","SuCECT12600"], "range": ["circle","square","triangle-up"]}, "legend": null}}},
  {"data": {"values": [{"ttl": "Glycerol"}]}, "mark": {"type": "text", "align": "center", "baseline": "bottom", "fontSize": 22.5, "fontWeight": "bold", "dy": -6, "color": "#000000"}, "encoding": {"x": {"datum": 85, "type": "quantitative"}, "y": {"value": 0}, "text": {"field": "ttl"}}}
 ]},
{"width": 1, "height": 1, "data": {"values": [{"a": 1}]}, "mark": {"type": "point", "opacity": 0}, "encoding": {}, "view": {"stroke": null}},
{"width": 1, "height": 1, "data": {"values": [{"a": 1}]}, "mark": {"type": "point", "opacity": 0}, "encoding": {}, "view": {"stroke": null}},
{"width": 1, "height": 1, "data": {"values": [{"a": 1}]}, "mark": {"type": "point", "opacity": 0}, "encoding": {}, "view": {"stroke": null}},
{"width": 435, "height": 149,
 "layer": [
  {"data": {"name": "eth_sim"}, "mark": {"type": "line", "interpolate": "monotone", "strokeWidth": 4.5, "opacity": 0.6}, "encoding": {"x": {"field": "t", "type": "quantitative", "scale": {"domain": [0,170], "nice": false}, "axis": {"values": [0,50,100,150], "title": null}}, "y": {"field": "v", "type": "quantitative", "title": "Concentration (g/L)", "scale": {"domain": [0,100], "nice": false}, "axis": {"values": [0,50,100]}}, "color": {"field": "s", "type": "nominal", "scale": {"domain": ["ScT73","SuBMV58","SuCECT12600"], "range": ["#ff0000","#0000ff","#77ac30"]}, "legend": null}}},
  {"data": {"name": "vl"}, "mark": {"type": "rule", "strokeDash": [10,6], "strokeWidth": 2.5, "opacity": 0.75}, "encoding": {"x": {"field": "t", "type": "quantitative"}, "color": {"field": "s", "type": "nominal", "legend": null}}},
  {"data": {"name": "eth_dat"}, "transform": [{"filter": "datum.lo != null"}], "mark": {"type": "errorbar", "ticks": true, "size": 9, "thickness": 2}, "encoding": {"x": {"field": "t", "type": "quantitative"}, "y": {"field": "lo", "type": "quantitative", "title": "Concentration (g/L)"}, "y2": {"field": "hi"}, "color": {"field": "s", "type": "nominal", "legend": null}}},
  {"data": {"name": "eth_dat"}, "mark": {"type": "point", "filled": false, "size": 140, "strokeWidth": 1.8, "opacity": 1}, "encoding": {"x": {"field": "t", "type": "quantitative"}, "y": {"field": "v", "type": "quantitative", "title": "Concentration (g/L)"}, "color": {"field": "s", "type": "nominal", "legend": null}, "shape": {"field": "s", "type": "nominal", "scale": {"domain": ["ScT73","SuBMV58","SuCECT12600"], "range": ["circle","square","triangle-up"]}, "legend": null}}},
  {"data": {"values": [{"ttl": "Ethanol"}]}, "mark": {"type": "text", "align": "center", "baseline": "bottom", "fontSize": 22.5, "fontWeight": "bold", "dy": -6, "color": "#000000"}, "encoding": {"x": {"datum": 85, "type": "quantitative"}, "y": {"value": 0}, "text": {"field": "ttl"}}}
 ]},
{"width": 433, "height": 149,
 "layer": [
  {"data": {"name": "suc_sim"}, "mark": {"type": "line", "interpolate": "monotone", "strokeWidth": 4.5, "opacity": 0.6}, "encoding": {"x": {"field": "t", "type": "quantitative", "scale": {"domain": [0,170], "nice": false}, "axis": {"values": [0,50,100,150], "title": null}}, "y": {"field": "v", "type": "quantitative", "title": "Concentration (g/L)", "scale": {"domain": [0,8.8], "nice": false}, "axis": {"values": [0,2,4,6,8]}}, "color": {"field": "s", "type": "nominal", "scale": {"domain": ["ScT73","SuBMV58","SuCECT12600"], "range": ["#ff0000","#0000ff","#77ac30"]}, "legend": null}}},
  {"data": {"name": "vl"}, "mark": {"type": "rule", "strokeDash": [10,6], "strokeWidth": 2.5, "opacity": 0.75}, "encoding": {"x": {"field": "t", "type": "quantitative"}, "color": {"field": "s", "type": "nominal", "legend": null}}},
  {"data": {"name": "suc_dat"}, "transform": [{"filter": "datum.lo != null"}], "mark": {"type": "errorbar", "ticks": true, "size": 9, "thickness": 2}, "encoding": {"x": {"field": "t", "type": "quantitative"}, "y": {"field": "lo", "type": "quantitative", "title": "Concentration (g/L)"}, "y2": {"field": "hi"}, "color": {"field": "s", "type": "nominal", "legend": null}}},
  {"data": {"name": "suc_dat"}, "mark": {"type": "point", "filled": false, "size": 140, "strokeWidth": 1.8, "opacity": 1}, "encoding": {"x": {"field": "t", "type": "quantitative"}, "y": {"field": "v", "type": "quantitative", "title": "Concentration (g/L)"}, "color": {"field": "s", "type": "nominal", "legend": null}, "shape": {"field": "s", "type": "nominal", "scale": {"domain": ["ScT73","SuBMV58","SuCECT12600"], "range": ["circle","square","triangle-up"]}, "legend": null}}},
  {"data": {"values": [{"ttl": "Succinate"}]}, "mark": {"type": "text", "align": "center", "baseline": "bottom", "fontSize": 22.5, "fontWeight": "bold", "dy": -6, "color": "#000000"}, "encoding": {"x": {"datum": 85, "type": "quantitative"}, "y": {"value": 0}, "text": {"field": "ttl"}}}
 ]},
{"width": 475, "height": 149,
 "layer": [
  {"data": {"name": "yan_sim"}, "mark": {"type": "line", "interpolate": "monotone", "strokeWidth": 4.5, "opacity": 0.6}, "encoding": {"x": {"field": "t", "type": "quantitative", "scale": {"domain": [0,35], "nice": false}, "axis": {"values": [0,5,10,15,20,25,30,35], "title": null}}, "y": {"field": "v", "type": "quantitative", "title": "g/L", "scale": {"domain": [-0.05,0.4], "nice": false, "zero": false}, "axis": {"values": [0,0.2,0.4], "format": "~g"}}, "color": {"field": "s", "type": "nominal", "scale": {"domain": ["ScT73","SuBMV58","SuCECT12600"], "range": ["#ff0000","#0000ff","#77ac30"]}, "legend": null}}},
  {"data": {"name": "vl3"}, "mark": {"type": "rule", "strokeDash": [10,6], "strokeWidth": 2.5, "opacity": 0.75}, "encoding": {"x": {"field": "t", "type": "quantitative"}, "color": {"field": "s", "type": "nominal", "legend": null}}},
  {"data": {"name": "yan_dat"}, "mark": {"type": "point", "filled": true, "size": 120, "opacity": 1}, "encoding": {"x": {"field": "t", "type": "quantitative"}, "y": {"field": "v", "type": "quantitative", "title": "g/L"}, "color": {"field": "s", "type": "nominal", "legend": null}, "shape": {"field": "s", "type": "nominal", "scale": {"domain": ["ScT73","SuBMV58","SuCECT12600"], "range": ["circle","square","triangle-up"]}, "legend": null}}},
  {"data": {"values": [{"ttl": "YAN"}]}, "mark": {"type": "text", "align": "center", "baseline": "bottom", "fontSize": 22.5, "fontWeight": "bold", "dy": -6, "color": "#000000"}, "encoding": {"x": {"datum": 17.5, "type": "quantitative"}, "y": {"value": 0}, "text": {"field": "ttl"}}}
 ]},
{"width": 1, "height": 1, "data": {"values": [{"a": 1}]}, "mark": {"type": "point", "opacity": 0}, "encoding": {}, "view": {"stroke": null}},
{"width": 1, "height": 1, "data": {"values": [{"a": 1}]}, "mark": {"type": "point", "opacity": 0}, "encoding": {}, "view": {"stroke": null}},
{"width": 1, "height": 1, "data": {"values": [{"a": 1}]}, "mark": {"type": "point", "opacity": 0}, "encoding": {}, "view": {"stroke": null}},
{"width": 433, "height": 149,
 "resolve": {"scale": {"y": "independent"}},
 "layer": [
  {"data": {"name": "prot_sim"}, "mark": {"type": "line", "interpolate": "monotone", "strokeWidth": 4.5, "opacity": 0.6},
   "encoding": {"x": {"field": "t", "type": "quantitative", "scale": {"domain": [0,50], "nice": false}, "axis": {"values": [0,10,20,30,40,50], "title": null}},
     "y": {"field": "v", "type": "quantitative", "title": "g Protein / (g.dW) x 100", "scale": {"domain": [20,80], "nice": false, "zero": false}, "axis": {"values": [20,40,60,80], "labelColor": "#0072bd", "titleColor": "#0072bd", "domain": true, "domainColor": "#0072bd", "domainWidth": 1.5}},
     "color": {"field": "s", "type": "nominal", "scale": {"domain": ["ScT73","SuBMV58","SuCECT12600"], "range": ["#ff0000","#0000ff","#77ac30"]}, "legend": null}}},
  {"data": {"values": [{"d": 1}]}, "mark": {"type": "rule", "opacity": 0},
   "encoding": {"y": {"datum": 0.5, "type": "quantitative", "scale": {"domain": [0,1], "nice": false}, "axis": {"orient": "right", "values": [0,0.5,1], "format": "~g", "title": null, "grid": false, "labelColor": "#d95319", "domain": true, "domainColor": "#d95319", "domainWidth": 1.5}}}},
  {"data": {"values": [{"ttl": "Protein/gDW"}]}, "mark": {"type": "text", "align": "center", "baseline": "bottom", "fontSize": 22.5, "fontWeight": "bold", "dy": -6, "color": "#000000"}, "encoding": {"x": {"datum": 25, "type": "quantitative"}, "y": {"value": 0}, "text": {"field": "ttl"}}}
 ]},
{"width": 433, "height": 149,
 "layer": [
  {"data": {"name": "co2_sim"}, "mark": {"type": "line", "interpolate": "monotone", "strokeWidth": 4.5, "opacity": 0.6}, "encoding": {"x": {"field": "t", "type": "quantitative", "scale": {"domain": [10,35], "nice": false, "zero": false}, "axis": {"values": [10,15,20,25,30,35], "title": null}}, "y": {"field": "v", "type": "quantitative", "title": "%CO2", "scale": {"domain": [0,6], "nice": false}, "axis": {"values": [0,2,4,6]}}, "color": {"field": "s", "type": "nominal", "scale": {"domain": ["ScT73","SuBMV58","SuCECT12600"], "range": ["#ff0000","#0000ff","#77ac30"]}, "legend": null}}},
  {"data": {"name": "vl3"}, "mark": {"type": "rule", "strokeDash": [10,6], "strokeWidth": 2.5, "opacity": 0.75}, "encoding": {"x": {"field": "t", "type": "quantitative"}, "color": {"field": "s", "type": "nominal", "legend": null}}},
  {"data": {"values": [{"ttl": "%CO2 in Exhaust Gas"}]}, "mark": {"type": "text", "align": "center", "baseline": "bottom", "fontSize": 22.5, "fontWeight": "bold", "dy": -6, "color": "#000000"}, "encoding": {"x": {"datum": 22.5, "type": "quantitative"}, "y": {"value": 0}, "text": {"field": "ttl"}}}
 ]},
{"width": 475, "height": 149,
 "layer": [
  {"data": {"name": "sgr_sim"}, "mark": {"type": "line", "strokeWidth": 4.5, "opacity": 0.6}, "encoding": {"x": {"field": "t", "type": "quantitative", "scale": {"domain": [0,35], "nice": false}, "axis": {"values": [0,5,10,15,20,25,30,35], "title": null}}, "y": {"field": "v", "type": "quantitative", "title": "h`1", "scale": {"domain": [0,0.7], "nice": false}, "axis": {"values": [0,0.2,0.4,0.6], "format": "~g"}}, "color": {"field": "s", "type": "nominal", "scale": {"domain": ["ScT73","SuBMV58","SuCECT12600"], "range": ["#ff0000","#0000ff","#77ac30"]}, "legend": null}}},
  {"data": {"values": [{"ttl": "Specific growth rate"}]}, "mark": {"type": "text", "align": "center", "baseline": "bottom", "fontSize": 22.5, "fontWeight": "bold", "dy": -6, "color": "#000000"}, "encoding": {"x": {"datum": 17.5, "type": "quantitative"}, "y": {"value": 0}, "text": {"field": "ttl"}}}
 ]},
{"width": 1, "height": 34, "data": {"values": [{"a": 1}]}, "mark": {"type": "point", "opacity": 0}, "encoding": {}, "view": {"stroke": null}},
{"width": 1, "height": 34, "data": {"values": [{"a": 1}]}, "mark": {"type": "point", "opacity": 0}, "encoding": {}, "view": {"stroke": null}},
{"width": 1, "height": 34, "data": {"values": [{"a": 1}]}, "mark": {"type": "point", "opacity": 0}, "encoding": {}, "view": {"stroke": null}},
{"width": 382, "height": 227, "view": {"stroke": null},
 "title": {"text": "L-tyrosine", "font": "Liberation Sans", "fontSize": 30, "dx": 17, "offset": 6},
 "encoding": {"x": {"field": "t", "type": "quantitative", "scale": {"domain": [-14.2,150], "nice": false, "zero": false}, "axis": {"values": [0,50,100,150], "title": null, "labelFont": "Liberation Sans", "labelFontSize": 26, "labelPadding": 16}},
   "color": {"field": "s", "type": "nominal", "scale": {"domain": ["ScT73","SuBMV58","SuCECT12600"], "range": ["#ff0000","#0000ff","#77ac30"]}, "legend": null}},
 "layer": [
  {"data": {"name": "tyr_sim"}, "mark": {"type": "line", "interpolate": "monotone", "strokeWidth": 4.5, "opacity": 0.6}, "encoding": {"y": {"field": "v", "type": "quantitative", "title": "mg/L", "scale": {"domain": [0,25], "nice": false}, "axis": {"values": [0,10,20], "grid": false, "offset": -33, "labelFont": "Liberation Sans", "labelFontSize": 26, "titleFont": "Liberation Sans", "titleFontSize": 28, "labelPadding": 9}}}},
  {"data": {"values": [{"a": 1}]}, "mark": {"type": "rule", "strokeWidth": 1.5}, "encoding": {"x": {"datum": 0}, "x2": {"datum": 150}, "y": {"datum": 25}, "color": {"value": "#a0a0a0"}}},
  {"data": {"values": [{"a": 1}]}, "mark": {"type": "rule", "strokeWidth": 1.5}, "encoding": {"x": {"datum": 0}, "x2": {"datum": 150}, "y": {"datum": 0}, "color": {"value": "#606060"}}},
  {"data": {"values": [{"a": 1}]}, "mark": {"type": "rule", "strokeWidth": 1.5}, "encoding": {"x": {"datum": 150}, "color": {"value": "#a0a0a0"}}},
  {"data": {"values": [{"a": 1}]}, "mark": {"type": "rule", "strokeWidth": 3}, "encoding": {"x": {"datum": 0}, "color": {"value": "#555555"}}},
  {"data": {"name": "tyr_dat"}, "transform": [{"filter": "datum.lo != null"}], "mark": {"type": "errorbar", "ticks": true, "size": 9, "thickness": 2}, "encoding": {"y": {"field": "lo", "type": "quantitative", "title": "mg/L"}, "y2": {"field": "hi"}}},
  {"data": {"name": "tyr_dat"}, "mark": {"type": "point", "filled": false, "size": 160, "strokeWidth": 2, "opacity": 1}, "encoding": {"y": {"field": "v", "type": "quantitative", "title": "mg/L"}, "shape": {"field": "s", "type": "nominal", "scale": {"domain": ["ScT73","SuBMV58","SuCECT12600"], "range": ["circle","square","triangle-up"]}, "legend": null}}}
 ]},
{"width": 358, "height": 227,
 "title": {"text": "Proline", "font": "Liberation Sans", "fontSize": 30, "offset": 8},
 "encoding": {"x": {"field": "t", "type": "quantitative", "scale": {"domain": [0,150], "nice": false}, "axis": {"values": [0,50,100,150], "title": null, "labelFont": "Liberation Sans", "labelFontSize": 26, "labelPadding": 16}},
   "color": {"field": "s", "type": "nominal", "scale": {"domain": ["ScT73","SuBMV58","SuCECT12600"], "range": ["#ff0000","#0000ff","#77ac30"]}, "legend": null}},
 "layer": [
  {"data": {"name": "pro_sim"}, "mark": {"type": "line", "interpolate": "monotone", "strokeWidth": 4.5, "opacity": 0.6}, "encoding": {"y": {"field": "v", "type": "quantitative", "title": "mg/L", "scale": {"domain": [0,190], "nice": false}, "axis": {"values": [0,50,100,150], "labelFont": "Liberation Sans", "labelFontSize": 26, "titleFont": "Liberation Sans", "titleFontSize": 28, "labelPadding": 9}}}},
  {"data": {"name": "pro_dat"}, "transform": [{"filter": "datum.lo != null"}], "mark": {"type": "errorbar", "ticks": true, "size": 9, "thickness": 2}, "encoding": {"y": {"field": "lo", "type": "quantitative", "title": "mg/L"}, "y2": {"field": "hi"}}},
  {"data": {"name": "pro_dat"}, "mark": {"type": "point", "filled": false, "size": 160, "strokeWidth": 2, "opacity": 1}, "encoding": {"y": {"field": "v", "type": "quantitative", "title": "mg/L"}, "shape": {"field": "s", "type": "nominal", "scale": {"domain": ["ScT73","SuBMV58","SuCECT12600"], "range": ["circle","square","triangle-up"]}, "legend": null}}}
 ]},
{"width": 616, "height": 227, "view": {"stroke": null},
 "layer": [
  {"data": {"values": [{"txt": "Predicción consumo de aminoácidos"}]}, "mark": {"type": "text", "align": "left", "baseline": "middle", "font": "Open Sans", "fontSize": 41, "color": "#000000"},
   "encoding": {"x": {"datum": -13, "type": "quantitative", "scale": {"domain": [0,100], "nice": false}, "axis": null}, "y": {"datum": 85.5, "type": "quantitative", "scale": {"domain": [0,100], "nice": false}, "axis": null}, "text": {"field": "txt"}}},
  {"data": {"values": [{"txt": "➢\u00a0\u00a0Posibilidades:"}]}, "mark": {"type": "text", "align": "left", "baseline": "middle", "font": "Open Sans", "fontSize": 41.5, "color": "#76923c"},
   "encoding": {"x": {"datum": -12, "type": "quantitative", "axis": null}, "y": {"datum": 35.2, "type": "quantitative", "axis": null}, "text": {"field": "txt"}}},
  {"data": {"values": [{"txt": "- Diseño de medios"}]}, "mark": {"type": "text", "align": "left", "baseline": "middle", "font": "Open Sans", "fontSize": 41.5, "color": "#000000"},
   "encoding": {"x": {"datum": -3.9, "type": "quantitative", "axis": null}, "y": {"datum": 9.7, "type": "quantitative", "axis": null}, "text": {"field": "txt"}}},
  {"data": {"values": [{"txt": "14"}]}, "mark": {"type": "text", "align": "center", "baseline": "middle", "font": "Open Sans", "fontSize": 24, "color": "#a6a6a6"},
   "encoding": {"x": {"datum": 86.2, "type": "quantitative", "axis": null}, "y": {"datum": 0.9, "type": "quantitative", "axis": null}, "text": {"field": "txt"}}}
 ]}
],
"config": {
  "font": "Liberation Sans Narrow, Liberation Sans, Arial, sans-serif",
  "view": {"stroke": "#262626", "strokeWidth": 1},
  "text": {"font": "Liberation Sans Narrow, Liberation Sans, Arial, sans-serif"},
  "axis": {"labelFont": "Liberation Sans Narrow, Liberation Sans, Arial, sans-serif", "labelFontSize": 20, "labelColor": "#262626", "titleFont": "Liberation Sans Narrow, Liberation Sans, Arial, sans-serif", "titleFontSize": 24, "titleFontWeight": "normal", "titleColor": "#262626", "ticks": false, "domain": false, "grid": true, "gridColor": "#dcdcdc", "labelPadding": 10, "titlePadding": 10, "labelFlush": false, "labelOverlap": false},
  "axisX": {"labelPadding": 12},
  "title": {"font": "Liberation Sans Narrow, Liberation Sans, Arial, sans-serif", "fontSize": 22.5, "fontWeight": "bold", "color": "#000000", "offset": 6}
}
}
